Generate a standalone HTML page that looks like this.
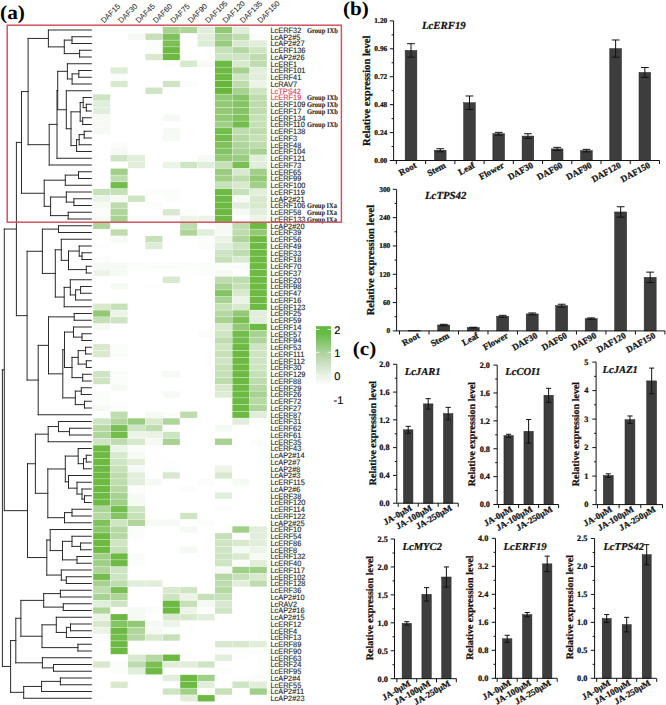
<!DOCTYPE html>
<html><head><meta charset="utf-8"><title>Figure</title>
<style>
html,body{margin:0;padding:0;background:#fff;width:666px;height:705px;overflow:hidden;}
body{position:relative;}
svg{display:block;text-rendering:geometricPrecision;}
</style></head><body>
<svg width="666" height="705" viewBox="0 0 666 705" style="position:absolute;left:0;top:0">
<defs><linearGradient id="lgd" x1="0" y1="0" x2="0" y2="1"><stop offset="0" stop-color="#60ba3e"/><stop offset="0.12" stop-color="#66bb44"/><stop offset="0.44" stop-color="#acd39c"/><stop offset="0.8" stop-color="#e6efe2"/><stop offset="1" stop-color="#ffffff"/></linearGradient></defs>
<g>
<rect x="162.8" y="26.82" width="17" height="6.35" fill="#a7d291"/>
<rect x="180.2" y="26.82" width="17" height="6.35" fill="#afd59a"/>
<rect x="197.6" y="26.82" width="17" height="6.35" fill="#e1eedb"/>
<rect x="215" y="26.82" width="17" height="6.35" fill="#93c975"/>
<rect x="232.4" y="26.82" width="17" height="6.35" fill="#e1eedb"/>
<rect x="128" y="33.58" width="17" height="6.35" fill="#f6faf4"/>
<rect x="145.4" y="33.58" width="17" height="6.35" fill="#c6e0b8"/>
<rect x="162.8" y="33.58" width="17" height="6.35" fill="#7fc15b"/>
<rect x="197.6" y="33.58" width="17" height="6.35" fill="#e1eedb"/>
<rect x="215" y="33.58" width="17" height="6.35" fill="#a7d291"/>
<rect x="232.4" y="33.58" width="17" height="6.35" fill="#bedcae"/>
<rect x="249.8" y="33.58" width="17" height="6.35" fill="#fbfdfa"/>
<rect x="145.4" y="40.33" width="17" height="6.35" fill="#fbfdfa"/>
<rect x="162.8" y="40.33" width="17" height="6.35" fill="#79bf53"/>
<rect x="197.6" y="40.33" width="17" height="6.35" fill="#ddecd5"/>
<rect x="215" y="40.33" width="17" height="6.35" fill="#99cc7e"/>
<rect x="232.4" y="40.33" width="17" height="6.35" fill="#d8e9ce"/>
<rect x="249.8" y="40.33" width="17" height="6.35" fill="#e1eedb"/>
<rect x="145.4" y="47.08" width="17" height="6.35" fill="#fbfdfa"/>
<rect x="162.8" y="47.08" width="17" height="6.35" fill="#6cba42"/>
<rect x="215" y="47.08" width="17" height="6.35" fill="#c6e0b8"/>
<rect x="232.4" y="47.08" width="17" height="6.35" fill="#b6d9a4"/>
<rect x="249.8" y="47.08" width="17" height="6.35" fill="#cee5c3"/>
<rect x="145.4" y="53.83" width="17" height="6.35" fill="#d8e9ce"/>
<rect x="162.8" y="53.83" width="17" height="6.35" fill="#6cba42"/>
<rect x="215" y="53.83" width="17" height="6.35" fill="#cee5c3"/>
<rect x="232.4" y="53.83" width="17" height="6.35" fill="#cee5c3"/>
<rect x="249.8" y="53.83" width="17" height="6.35" fill="#bedcae"/>
<rect x="162.8" y="60.58" width="17" height="6.35" fill="#fbfdfa"/>
<rect x="180.2" y="60.58" width="17" height="6.35" fill="#d8e9ce"/>
<rect x="197.6" y="60.58" width="17" height="6.35" fill="#f6faf4"/>
<rect x="215" y="60.58" width="17" height="6.35" fill="#6cba42"/>
<rect x="232.4" y="60.58" width="17" height="6.35" fill="#d8e9ce"/>
<rect x="249.8" y="60.58" width="17" height="6.35" fill="#bedcae"/>
<rect x="110.6" y="67.33" width="17" height="6.35" fill="#ddecd5"/>
<rect x="215" y="67.33" width="17" height="6.35" fill="#6cba42"/>
<rect x="232.4" y="67.33" width="17" height="6.35" fill="#a7d291"/>
<rect x="249.8" y="67.33" width="17" height="6.35" fill="#e1eedb"/>
<rect x="110.6" y="74.08" width="17" height="6.35" fill="#fbfdfa"/>
<rect x="215" y="74.08" width="17" height="6.35" fill="#6cba42"/>
<rect x="232.4" y="74.08" width="17" height="6.35" fill="#cee5c3"/>
<rect x="249.8" y="74.08" width="17" height="6.35" fill="#e1eedb"/>
<rect x="110.6" y="80.83" width="17" height="6.35" fill="#d8e9ce"/>
<rect x="162.8" y="80.83" width="17" height="6.35" fill="#cee5c3"/>
<rect x="180.2" y="80.83" width="17" height="6.35" fill="#fbfdfa"/>
<rect x="215" y="80.83" width="17" height="6.35" fill="#66b83a"/>
<rect x="232.4" y="80.83" width="17" height="6.35" fill="#bedcae"/>
<rect x="249.8" y="80.83" width="17" height="6.35" fill="#ebf4e6"/>
<rect x="145.4" y="87.58" width="17" height="6.35" fill="#cee5c3"/>
<rect x="215" y="87.58" width="17" height="6.35" fill="#66b83a"/>
<rect x="232.4" y="87.58" width="17" height="6.35" fill="#a7d291"/>
<rect x="249.8" y="87.58" width="17" height="6.35" fill="#cee5c3"/>
<rect x="93.2" y="94.33" width="17" height="6.35" fill="#cee5c3"/>
<rect x="215" y="94.33" width="17" height="6.35" fill="#93c975"/>
<rect x="232.4" y="94.33" width="17" height="6.35" fill="#85c464"/>
<rect x="249.8" y="94.33" width="17" height="6.35" fill="#bedcae"/>
<rect x="93.2" y="101.08" width="17" height="6.35" fill="#e1eedb"/>
<rect x="215" y="101.08" width="17" height="6.35" fill="#93c975"/>
<rect x="232.4" y="101.08" width="17" height="6.35" fill="#85c464"/>
<rect x="249.8" y="101.08" width="17" height="6.35" fill="#bedcae"/>
<rect x="93.2" y="107.83" width="17" height="6.35" fill="#e1eedb"/>
<rect x="215" y="107.83" width="17" height="6.35" fill="#93c975"/>
<rect x="232.4" y="107.83" width="17" height="6.35" fill="#85c464"/>
<rect x="249.8" y="107.83" width="17" height="6.35" fill="#bedcae"/>
<rect x="93.2" y="114.58" width="17" height="6.35" fill="#f6faf4"/>
<rect x="162.8" y="114.58" width="17" height="6.35" fill="#f6faf4"/>
<rect x="215" y="114.58" width="17" height="6.35" fill="#93c975"/>
<rect x="232.4" y="114.58" width="17" height="6.35" fill="#7fc15b"/>
<rect x="249.8" y="114.58" width="17" height="6.35" fill="#c6e0b8"/>
<rect x="93.2" y="121.33" width="17" height="6.35" fill="#f6faf4"/>
<rect x="215" y="121.33" width="17" height="6.35" fill="#a0cf87"/>
<rect x="232.4" y="121.33" width="17" height="6.35" fill="#72bd4b"/>
<rect x="249.8" y="121.33" width="17" height="6.35" fill="#c6e0b8"/>
<rect x="93.2" y="128.07" width="17" height="6.35" fill="#f6faf4"/>
<rect x="162.8" y="128.07" width="17" height="6.35" fill="#f6faf4"/>
<rect x="215" y="128.07" width="17" height="6.35" fill="#72bd4b"/>
<rect x="232.4" y="128.07" width="17" height="6.35" fill="#bedcae"/>
<rect x="249.8" y="128.07" width="17" height="6.35" fill="#bedcae"/>
<rect x="162.8" y="134.82" width="17" height="6.35" fill="#f6faf4"/>
<rect x="215" y="134.82" width="17" height="6.35" fill="#72bd4b"/>
<rect x="232.4" y="134.82" width="17" height="6.35" fill="#b6d9a4"/>
<rect x="249.8" y="134.82" width="17" height="6.35" fill="#c6e0b8"/>
<rect x="110.6" y="141.57" width="17" height="6.35" fill="#fbfdfa"/>
<rect x="215" y="141.57" width="17" height="6.35" fill="#7fc15b"/>
<rect x="232.4" y="141.57" width="17" height="6.35" fill="#afd59a"/>
<rect x="249.8" y="141.57" width="17" height="6.35" fill="#bedcae"/>
<rect x="110.6" y="148.32" width="17" height="6.35" fill="#f6faf4"/>
<rect x="215" y="148.32" width="17" height="6.35" fill="#85c464"/>
<rect x="232.4" y="148.32" width="17" height="6.35" fill="#a7d291"/>
<rect x="249.8" y="148.32" width="17" height="6.35" fill="#a7d291"/>
<rect x="110.6" y="155.07" width="17" height="6.35" fill="#cee5c3"/>
<rect x="128" y="155.07" width="17" height="6.35" fill="#e1eedb"/>
<rect x="197.6" y="155.07" width="17" height="6.35" fill="#f6faf4"/>
<rect x="215" y="155.07" width="17" height="6.35" fill="#93c975"/>
<rect x="232.4" y="155.07" width="17" height="6.35" fill="#99cc7e"/>
<rect x="249.8" y="155.07" width="17" height="6.35" fill="#e1eedb"/>
<rect x="128" y="161.82" width="17" height="6.35" fill="#e1eedb"/>
<rect x="162.8" y="161.82" width="17" height="6.35" fill="#ebf4e6"/>
<rect x="180.2" y="161.82" width="17" height="6.35" fill="#cee5c3"/>
<rect x="197.6" y="161.82" width="17" height="6.35" fill="#e1eedb"/>
<rect x="215" y="161.82" width="17" height="6.35" fill="#c6e0b8"/>
<rect x="232.4" y="161.82" width="17" height="6.35" fill="#79bf53"/>
<rect x="249.8" y="161.82" width="17" height="6.35" fill="#e1eedb"/>
<rect x="110.6" y="168.57" width="17" height="6.35" fill="#a0cf87"/>
<rect x="215" y="168.57" width="17" height="6.35" fill="#99cc7e"/>
<rect x="232.4" y="168.57" width="17" height="6.35" fill="#d8e9ce"/>
<rect x="249.8" y="168.57" width="17" height="6.35" fill="#a0cf87"/>
<rect x="110.6" y="175.32" width="17" height="6.35" fill="#bedcae"/>
<rect x="215" y="175.32" width="17" height="6.35" fill="#a0cf87"/>
<rect x="232.4" y="175.32" width="17" height="6.35" fill="#bedcae"/>
<rect x="249.8" y="175.32" width="17" height="6.35" fill="#93c975"/>
<rect x="110.6" y="182.07" width="17" height="6.35" fill="#72bd4b"/>
<rect x="215" y="182.07" width="17" height="6.35" fill="#c6e0b8"/>
<rect x="232.4" y="182.07" width="17" height="6.35" fill="#d8e9ce"/>
<rect x="249.8" y="182.07" width="17" height="6.35" fill="#a0cf87"/>
<rect x="93.2" y="188.82" width="17" height="6.35" fill="#c6e0b8"/>
<rect x="110.6" y="188.82" width="17" height="6.35" fill="#c6e0b8"/>
<rect x="145.4" y="188.82" width="17" height="6.35" fill="#fbfdfa"/>
<rect x="162.8" y="188.82" width="17" height="6.35" fill="#fbfdfa"/>
<rect x="215" y="188.82" width="17" height="6.35" fill="#6cba42"/>
<rect x="232.4" y="188.82" width="17" height="6.35" fill="#c6e0b8"/>
<rect x="249.8" y="188.82" width="17" height="6.35" fill="#e1eedb"/>
<rect x="93.2" y="195.57" width="17" height="6.35" fill="#ebf4e6"/>
<rect x="110.6" y="195.57" width="17" height="6.35" fill="#f6faf4"/>
<rect x="128" y="195.57" width="17" height="6.35" fill="#cee5c3"/>
<rect x="162.8" y="195.57" width="17" height="6.35" fill="#fbfdfa"/>
<rect x="215" y="195.57" width="17" height="6.35" fill="#6cba42"/>
<rect x="232.4" y="195.57" width="17" height="6.35" fill="#f6faf4"/>
<rect x="249.8" y="195.57" width="17" height="6.35" fill="#d8e9ce"/>
<rect x="93.2" y="202.32" width="17" height="6.35" fill="#f6faf4"/>
<rect x="110.6" y="202.32" width="17" height="6.35" fill="#bedcae"/>
<rect x="145.4" y="202.32" width="17" height="6.35" fill="#fbfdfa"/>
<rect x="215" y="202.32" width="17" height="6.35" fill="#6cba42"/>
<rect x="232.4" y="202.32" width="17" height="6.35" fill="#e1eedb"/>
<rect x="249.8" y="202.32" width="17" height="6.35" fill="#d8e9ce"/>
<rect x="93.2" y="209.07" width="17" height="6.35" fill="#fbfdfa"/>
<rect x="110.6" y="209.07" width="17" height="6.35" fill="#afd59a"/>
<rect x="162.8" y="209.07" width="17" height="6.35" fill="#d8e9ce"/>
<rect x="180.2" y="209.07" width="17" height="6.35" fill="#fbfdfa"/>
<rect x="215" y="209.07" width="17" height="6.35" fill="#6cba42"/>
<rect x="232.4" y="209.07" width="17" height="6.35" fill="#f6faf4"/>
<rect x="249.8" y="209.07" width="17" height="6.35" fill="#e1eedb"/>
<rect x="93.2" y="215.82" width="17" height="6.35" fill="#f6faf4"/>
<rect x="110.6" y="215.82" width="17" height="6.35" fill="#a7d291"/>
<rect x="180.2" y="215.82" width="17" height="6.35" fill="#ebf4e6"/>
<rect x="197.6" y="215.82" width="17" height="6.35" fill="#ebf4e6"/>
<rect x="215" y="215.82" width="17" height="6.35" fill="#6cba42"/>
<rect x="249.8" y="215.82" width="17" height="6.35" fill="#ebf4e6"/>
<rect x="93.2" y="222.57" width="17" height="6.35" fill="#afd59a"/>
<rect x="110.6" y="222.57" width="17" height="6.35" fill="#fbfdfa"/>
<rect x="180.2" y="222.57" width="17" height="6.35" fill="#bedcae"/>
<rect x="215" y="222.57" width="17" height="6.35" fill="#f6faf4"/>
<rect x="232.4" y="222.57" width="17" height="6.35" fill="#bedcae"/>
<rect x="249.8" y="222.57" width="17" height="6.35" fill="#6cba42"/>
<rect x="110.6" y="229.32" width="17" height="6.35" fill="#bedcae"/>
<rect x="180.2" y="229.32" width="17" height="6.35" fill="#afd59a"/>
<rect x="197.6" y="229.32" width="17" height="6.35" fill="#e1eedb"/>
<rect x="215" y="229.32" width="17" height="6.35" fill="#f6faf4"/>
<rect x="232.4" y="229.32" width="17" height="6.35" fill="#bedcae"/>
<rect x="249.8" y="229.32" width="17" height="6.35" fill="#93c975"/>
<rect x="110.6" y="236.07" width="17" height="6.35" fill="#f6faf4"/>
<rect x="145.4" y="236.07" width="17" height="6.35" fill="#c6e0b8"/>
<rect x="197.6" y="236.07" width="17" height="6.35" fill="#fbfdfa"/>
<rect x="215" y="236.07" width="17" height="6.35" fill="#ebf4e6"/>
<rect x="232.4" y="236.07" width="17" height="6.35" fill="#afd59a"/>
<rect x="249.8" y="236.07" width="17" height="6.35" fill="#6cba42"/>
<rect x="93.2" y="242.82" width="17" height="6.35" fill="#fdfefd"/>
<rect x="145.4" y="242.82" width="17" height="6.35" fill="#ddecd5"/>
<rect x="197.6" y="242.82" width="17" height="6.35" fill="#fbfdfa"/>
<rect x="215" y="242.82" width="17" height="6.35" fill="#e1eedb"/>
<rect x="232.4" y="242.82" width="17" height="6.35" fill="#cee5c3"/>
<rect x="249.8" y="242.82" width="17" height="6.35" fill="#6cba42"/>
<rect x="215" y="249.57" width="17" height="6.35" fill="#cee5c3"/>
<rect x="232.4" y="249.57" width="17" height="6.35" fill="#bedcae"/>
<rect x="249.8" y="249.57" width="17" height="6.35" fill="#6cba42"/>
<rect x="93.2" y="256.32" width="17" height="6.35" fill="#fbfdfa"/>
<rect x="215" y="256.32" width="17" height="6.35" fill="#c6e0b8"/>
<rect x="232.4" y="256.32" width="17" height="6.35" fill="#d8e9ce"/>
<rect x="249.8" y="256.32" width="17" height="6.35" fill="#6cba42"/>
<rect x="93.2" y="263.07" width="17" height="6.35" fill="#f6faf4"/>
<rect x="110.6" y="263.07" width="17" height="6.35" fill="#f6faf4"/>
<rect x="128" y="263.07" width="17" height="6.35" fill="#fbfdfa"/>
<rect x="145.4" y="263.07" width="17" height="6.35" fill="#fbfdfa"/>
<rect x="162.8" y="263.07" width="17" height="6.35" fill="#fbfdfa"/>
<rect x="180.2" y="263.07" width="17" height="6.35" fill="#fbfdfa"/>
<rect x="197.6" y="263.07" width="17" height="6.35" fill="#fbfdfa"/>
<rect x="215" y="263.07" width="17" height="6.35" fill="#fbfdfa"/>
<rect x="232.4" y="263.07" width="17" height="6.35" fill="#fbfdfa"/>
<rect x="249.8" y="263.07" width="17" height="6.35" fill="#6cba42"/>
<rect x="93.2" y="269.82" width="17" height="6.35" fill="#ebf4e6"/>
<rect x="110.6" y="269.82" width="17" height="6.35" fill="#f6faf4"/>
<rect x="128" y="269.82" width="17" height="6.35" fill="#fdfefd"/>
<rect x="180.2" y="269.82" width="17" height="6.35" fill="#fdfefd"/>
<rect x="197.6" y="269.82" width="17" height="6.35" fill="#fbfdfa"/>
<rect x="215" y="269.82" width="17" height="6.35" fill="#f6faf4"/>
<rect x="249.8" y="269.82" width="17" height="6.35" fill="#6cba42"/>
<rect x="162.8" y="276.57" width="17" height="6.35" fill="#d8e9ce"/>
<rect x="215" y="276.57" width="17" height="6.35" fill="#bedcae"/>
<rect x="232.4" y="276.57" width="17" height="6.35" fill="#bedcae"/>
<rect x="249.8" y="276.57" width="17" height="6.35" fill="#6cba42"/>
<rect x="110.6" y="283.32" width="17" height="6.35" fill="#f6faf4"/>
<rect x="145.4" y="283.32" width="17" height="6.35" fill="#fdfefd"/>
<rect x="215" y="283.32" width="17" height="6.35" fill="#a7d291"/>
<rect x="232.4" y="283.32" width="17" height="6.35" fill="#c6e0b8"/>
<rect x="249.8" y="283.32" width="17" height="6.35" fill="#6cba42"/>
<rect x="215" y="290.07" width="17" height="6.35" fill="#85c464"/>
<rect x="232.4" y="290.07" width="17" height="6.35" fill="#d8e9ce"/>
<rect x="249.8" y="290.07" width="17" height="6.35" fill="#6cba42"/>
<rect x="215" y="296.82" width="17" height="6.35" fill="#a7d291"/>
<rect x="232.4" y="296.82" width="17" height="6.35" fill="#ebf4e6"/>
<rect x="249.8" y="296.82" width="17" height="6.35" fill="#6cba42"/>
<rect x="93.2" y="303.57" width="17" height="6.35" fill="#d8e9ce"/>
<rect x="110.6" y="303.57" width="17" height="6.35" fill="#c6e0b8"/>
<rect x="215" y="303.57" width="17" height="6.35" fill="#c6e0b8"/>
<rect x="232.4" y="303.57" width="17" height="6.35" fill="#d8e9ce"/>
<rect x="249.8" y="303.57" width="17" height="6.35" fill="#6cba42"/>
<rect x="93.2" y="310.32" width="17" height="6.35" fill="#93c975"/>
<rect x="110.6" y="310.32" width="17" height="6.35" fill="#ebf4e6"/>
<rect x="215" y="310.32" width="17" height="6.35" fill="#b6d9a4"/>
<rect x="232.4" y="310.32" width="17" height="6.35" fill="#93c975"/>
<rect x="249.8" y="310.32" width="17" height="6.35" fill="#e1eedb"/>
<rect x="93.2" y="317.07" width="17" height="6.35" fill="#c6e0b8"/>
<rect x="110.6" y="317.07" width="17" height="6.35" fill="#cee5c3"/>
<rect x="215" y="317.07" width="17" height="6.35" fill="#a7d291"/>
<rect x="232.4" y="317.07" width="17" height="6.35" fill="#79bf53"/>
<rect x="249.8" y="317.07" width="17" height="6.35" fill="#e1eedb"/>
<rect x="93.2" y="323.82" width="17" height="6.35" fill="#f6faf4"/>
<rect x="215" y="323.82" width="17" height="6.35" fill="#d8e9ce"/>
<rect x="232.4" y="323.82" width="17" height="6.35" fill="#93c975"/>
<rect x="249.8" y="323.82" width="17" height="6.35" fill="#6cba42"/>
<rect x="197.6" y="330.57" width="17" height="6.35" fill="#fbfdfa"/>
<rect x="215" y="330.57" width="17" height="6.35" fill="#cee5c3"/>
<rect x="232.4" y="330.57" width="17" height="6.35" fill="#72bd4b"/>
<rect x="249.8" y="330.57" width="17" height="6.35" fill="#a7d291"/>
<rect x="215" y="337.32" width="17" height="6.35" fill="#bedcae"/>
<rect x="232.4" y="337.32" width="17" height="6.35" fill="#72bd4b"/>
<rect x="249.8" y="337.32" width="17" height="6.35" fill="#afd59a"/>
<rect x="93.2" y="344.07" width="17" height="6.35" fill="#d8e9ce"/>
<rect x="110.6" y="344.07" width="17" height="6.35" fill="#fbfdfa"/>
<rect x="215" y="344.07" width="17" height="6.35" fill="#cee5c3"/>
<rect x="232.4" y="344.07" width="17" height="6.35" fill="#6cba42"/>
<rect x="249.8" y="344.07" width="17" height="6.35" fill="#cee5c3"/>
<rect x="93.2" y="350.82" width="17" height="6.35" fill="#d8e9ce"/>
<rect x="110.6" y="350.82" width="17" height="6.35" fill="#fbfdfa"/>
<rect x="215" y="350.82" width="17" height="6.35" fill="#c6e0b8"/>
<rect x="232.4" y="350.82" width="17" height="6.35" fill="#6cba42"/>
<rect x="249.8" y="350.82" width="17" height="6.35" fill="#cee5c3"/>
<rect x="215" y="357.57" width="17" height="6.35" fill="#cee5c3"/>
<rect x="232.4" y="357.57" width="17" height="6.35" fill="#6cba42"/>
<rect x="249.8" y="357.57" width="17" height="6.35" fill="#cee5c3"/>
<rect x="215" y="364.32" width="17" height="6.35" fill="#c6e0b8"/>
<rect x="232.4" y="364.32" width="17" height="6.35" fill="#6cba42"/>
<rect x="249.8" y="364.32" width="17" height="6.35" fill="#cee5c3"/>
<rect x="93.2" y="371.07" width="17" height="6.35" fill="#cee5c3"/>
<rect x="110.6" y="371.07" width="17" height="6.35" fill="#fbfdfa"/>
<rect x="162.8" y="371.07" width="17" height="6.35" fill="#f6faf4"/>
<rect x="215" y="371.07" width="17" height="6.35" fill="#c6e0b8"/>
<rect x="232.4" y="371.07" width="17" height="6.35" fill="#6cba42"/>
<rect x="249.8" y="371.07" width="17" height="6.35" fill="#c6e0b8"/>
<rect x="93.2" y="377.82" width="17" height="6.35" fill="#cee5c3"/>
<rect x="110.6" y="377.82" width="17" height="6.35" fill="#fbfdfa"/>
<rect x="215" y="377.82" width="17" height="6.35" fill="#bedcae"/>
<rect x="232.4" y="377.82" width="17" height="6.35" fill="#6cba42"/>
<rect x="249.8" y="377.82" width="17" height="6.35" fill="#bedcae"/>
<rect x="110.6" y="384.57" width="17" height="6.35" fill="#f6faf4"/>
<rect x="215" y="384.57" width="17" height="6.35" fill="#d8e9ce"/>
<rect x="232.4" y="384.57" width="17" height="6.35" fill="#6cba42"/>
<rect x="249.8" y="384.57" width="17" height="6.35" fill="#b6d9a4"/>
<rect x="93.2" y="391.32" width="17" height="6.35" fill="#fbfdfa"/>
<rect x="162.8" y="391.32" width="17" height="6.35" fill="#f6faf4"/>
<rect x="215" y="391.32" width="17" height="6.35" fill="#ddecd5"/>
<rect x="232.4" y="391.32" width="17" height="6.35" fill="#6cba42"/>
<rect x="249.8" y="391.32" width="17" height="6.35" fill="#a7d291"/>
<rect x="93.2" y="398.07" width="17" height="6.35" fill="#fbfdfa"/>
<rect x="110.6" y="398.07" width="17" height="6.35" fill="#fdfefd"/>
<rect x="232.4" y="398.07" width="17" height="6.35" fill="#6cba42"/>
<rect x="249.8" y="398.07" width="17" height="6.35" fill="#b6d9a4"/>
<rect x="93.2" y="404.82" width="17" height="6.35" fill="#f6faf4"/>
<rect x="110.6" y="404.82" width="17" height="6.35" fill="#fbfdfa"/>
<rect x="232.4" y="404.82" width="17" height="6.35" fill="#6cba42"/>
<rect x="249.8" y="404.82" width="17" height="6.35" fill="#afd59a"/>
<rect x="110.6" y="411.57" width="17" height="6.35" fill="#bedcae"/>
<rect x="145.4" y="411.57" width="17" height="6.35" fill="#f6faf4"/>
<rect x="162.8" y="411.57" width="17" height="6.35" fill="#fbfdfa"/>
<rect x="180.2" y="411.57" width="17" height="6.35" fill="#bedcae"/>
<rect x="232.4" y="411.57" width="17" height="6.35" fill="#6cba42"/>
<rect x="249.8" y="411.57" width="17" height="6.35" fill="#e1eedb"/>
<rect x="93.2" y="418.32" width="17" height="6.35" fill="#cee5c3"/>
<rect x="110.6" y="418.32" width="17" height="6.35" fill="#afd59a"/>
<rect x="128" y="418.32" width="17" height="6.35" fill="#99cc7e"/>
<rect x="145.4" y="418.32" width="17" height="6.35" fill="#d8e9ce"/>
<rect x="162.8" y="418.32" width="17" height="6.35" fill="#afd59a"/>
<rect x="232.4" y="418.32" width="17" height="6.35" fill="#e1eedb"/>
<rect x="93.2" y="425.07" width="17" height="6.35" fill="#b6d9a4"/>
<rect x="110.6" y="425.07" width="17" height="6.35" fill="#79bf53"/>
<rect x="128" y="425.07" width="17" height="6.35" fill="#cee5c3"/>
<rect x="145.4" y="425.07" width="17" height="6.35" fill="#bedcae"/>
<rect x="162.8" y="425.07" width="17" height="6.35" fill="#fbfdfa"/>
<rect x="215" y="425.07" width="17" height="6.35" fill="#f6faf4"/>
<rect x="93.2" y="431.82" width="17" height="6.35" fill="#afd59a"/>
<rect x="110.6" y="431.82" width="17" height="6.35" fill="#72bd4b"/>
<rect x="128" y="431.82" width="17" height="6.35" fill="#ebf4e6"/>
<rect x="145.4" y="431.82" width="17" height="6.35" fill="#ebf4e6"/>
<rect x="162.8" y="431.82" width="17" height="6.35" fill="#cee5c3"/>
<rect x="93.2" y="438.57" width="17" height="6.35" fill="#cee5c3"/>
<rect x="110.6" y="438.57" width="17" height="6.35" fill="#bedcae"/>
<rect x="128" y="438.57" width="17" height="6.35" fill="#d8e9ce"/>
<rect x="145.4" y="438.57" width="17" height="6.35" fill="#f6faf4"/>
<rect x="162.8" y="438.57" width="17" height="6.35" fill="#a7d291"/>
<rect x="215" y="438.57" width="17" height="6.35" fill="#a7d291"/>
<rect x="249.8" y="438.57" width="17" height="6.35" fill="#fbfdfa"/>
<rect x="93.2" y="445.32" width="17" height="6.35" fill="#6cba42"/>
<rect x="110.6" y="445.32" width="17" height="6.35" fill="#ebf4e6"/>
<rect x="128" y="445.32" width="17" height="6.35" fill="#fbfdfa"/>
<rect x="145.4" y="445.32" width="17" height="6.35" fill="#fdfefd"/>
<rect x="93.2" y="452.07" width="17" height="6.35" fill="#6cba42"/>
<rect x="110.6" y="452.07" width="17" height="6.35" fill="#d8e9ce"/>
<rect x="128" y="452.07" width="17" height="6.35" fill="#f6faf4"/>
<rect x="145.4" y="452.07" width="17" height="6.35" fill="#fdfefd"/>
<rect x="180.2" y="452.07" width="17" height="6.35" fill="#fdfefd"/>
<rect x="93.2" y="458.82" width="17" height="6.35" fill="#6cba42"/>
<rect x="110.6" y="458.82" width="17" height="6.35" fill="#cee5c3"/>
<rect x="128" y="458.82" width="17" height="6.35" fill="#e1eedb"/>
<rect x="145.4" y="458.82" width="17" height="6.35" fill="#fdfefd"/>
<rect x="162.8" y="458.82" width="17" height="6.35" fill="#fdfefd"/>
<rect x="93.2" y="465.57" width="17" height="6.35" fill="#6cba42"/>
<rect x="110.6" y="465.57" width="17" height="6.35" fill="#c6e0b8"/>
<rect x="128" y="465.57" width="17" height="6.35" fill="#f6faf4"/>
<rect x="145.4" y="465.57" width="17" height="6.35" fill="#fdfefd"/>
<rect x="162.8" y="465.57" width="17" height="6.35" fill="#fbfdfa"/>
<rect x="215" y="465.57" width="17" height="6.35" fill="#ebf4e6"/>
<rect x="93.2" y="472.32" width="17" height="6.35" fill="#6cba42"/>
<rect x="110.6" y="472.32" width="17" height="6.35" fill="#bedcae"/>
<rect x="128" y="472.32" width="17" height="6.35" fill="#e1eedb"/>
<rect x="145.4" y="472.32" width="17" height="6.35" fill="#fefffe"/>
<rect x="162.8" y="472.32" width="17" height="6.35" fill="#d8e9ce"/>
<rect x="215" y="472.32" width="17" height="6.35" fill="#d8e9ce"/>
<rect x="93.2" y="479.07" width="17" height="6.35" fill="#6cba42"/>
<rect x="110.6" y="479.07" width="17" height="6.35" fill="#bedcae"/>
<rect x="128" y="479.07" width="17" height="6.35" fill="#e1eedb"/>
<rect x="145.4" y="479.07" width="17" height="6.35" fill="#f6faf4"/>
<rect x="197.6" y="479.07" width="17" height="6.35" fill="#fbfdfa"/>
<rect x="232.4" y="479.07" width="17" height="6.35" fill="#f6faf4"/>
<rect x="93.2" y="485.82" width="17" height="6.35" fill="#6cba42"/>
<rect x="110.6" y="485.82" width="17" height="6.35" fill="#b6d9a4"/>
<rect x="128" y="485.82" width="17" height="6.35" fill="#fbfdfa"/>
<rect x="180.2" y="485.82" width="17" height="6.35" fill="#fbfdfa"/>
<rect x="93.2" y="492.57" width="17" height="6.35" fill="#6cba42"/>
<rect x="110.6" y="492.57" width="17" height="6.35" fill="#a7d291"/>
<rect x="128" y="492.57" width="17" height="6.35" fill="#f6faf4"/>
<rect x="215" y="492.57" width="17" height="6.35" fill="#e1eedb"/>
<rect x="93.2" y="499.32" width="17" height="6.35" fill="#6cba42"/>
<rect x="110.6" y="499.32" width="17" height="6.35" fill="#a0cf87"/>
<rect x="128" y="499.32" width="17" height="6.35" fill="#f6faf4"/>
<rect x="93.2" y="506.07" width="17" height="6.35" fill="#afd59a"/>
<rect x="110.6" y="506.07" width="17" height="6.35" fill="#72bd4b"/>
<rect x="128" y="506.07" width="17" height="6.35" fill="#cee5c3"/>
<rect x="215" y="506.07" width="17" height="6.35" fill="#fbfdfa"/>
<rect x="93.2" y="512.83" width="17" height="6.35" fill="#b6d9a4"/>
<rect x="110.6" y="512.83" width="17" height="6.35" fill="#85c464"/>
<rect x="128" y="512.83" width="17" height="6.35" fill="#c6e0b8"/>
<rect x="180.2" y="512.83" width="17" height="6.35" fill="#cee5c3"/>
<rect x="93.2" y="519.58" width="17" height="6.35" fill="#7fc15b"/>
<rect x="110.6" y="519.58" width="17" height="6.35" fill="#cee5c3"/>
<rect x="128" y="519.58" width="17" height="6.35" fill="#afd59a"/>
<rect x="145.4" y="519.58" width="17" height="6.35" fill="#f6faf4"/>
<rect x="162.8" y="519.58" width="17" height="6.35" fill="#f6faf4"/>
<rect x="197.6" y="519.58" width="17" height="6.35" fill="#fbfdfa"/>
<rect x="93.2" y="526.33" width="17" height="6.35" fill="#8cc66d"/>
<rect x="110.6" y="526.33" width="17" height="6.35" fill="#b6d9a4"/>
<rect x="128" y="526.33" width="17" height="6.35" fill="#fbfdfa"/>
<rect x="180.2" y="526.33" width="17" height="6.35" fill="#f6faf4"/>
<rect x="232.4" y="526.33" width="17" height="6.35" fill="#a0cf87"/>
<rect x="249.8" y="526.33" width="17" height="6.35" fill="#e1eedb"/>
<rect x="93.2" y="533.08" width="17" height="6.35" fill="#6cba42"/>
<rect x="110.6" y="533.08" width="17" height="6.35" fill="#b6d9a4"/>
<rect x="128" y="533.08" width="17" height="6.35" fill="#fbfdfa"/>
<rect x="215" y="533.08" width="17" height="6.35" fill="#c6e0b8"/>
<rect x="249.8" y="533.08" width="17" height="6.35" fill="#e1eedb"/>
<rect x="93.2" y="539.83" width="17" height="6.35" fill="#6cba42"/>
<rect x="110.6" y="539.83" width="17" height="6.35" fill="#cee5c3"/>
<rect x="215" y="539.83" width="17" height="6.35" fill="#cee5c3"/>
<rect x="232.4" y="539.83" width="17" height="6.35" fill="#d8e9ce"/>
<rect x="249.8" y="539.83" width="17" height="6.35" fill="#e1eedb"/>
<rect x="93.2" y="546.58" width="17" height="6.35" fill="#6cba42"/>
<rect x="110.6" y="546.58" width="17" height="6.35" fill="#c6e0b8"/>
<rect x="180.2" y="546.58" width="17" height="6.35" fill="#f6faf4"/>
<rect x="215" y="546.58" width="17" height="6.35" fill="#cee5c3"/>
<rect x="232.4" y="546.58" width="17" height="6.35" fill="#f6faf4"/>
<rect x="249.8" y="546.58" width="17" height="6.35" fill="#ebf4e6"/>
<rect x="93.2" y="553.33" width="17" height="6.35" fill="#a0cf87"/>
<rect x="110.6" y="553.33" width="17" height="6.35" fill="#6cba42"/>
<rect x="128" y="553.33" width="17" height="6.35" fill="#fbfdfa"/>
<rect x="215" y="553.33" width="17" height="6.35" fill="#cee5c3"/>
<rect x="232.4" y="553.33" width="17" height="6.35" fill="#d8e9ce"/>
<rect x="249.8" y="553.33" width="17" height="6.35" fill="#f6faf4"/>
<rect x="93.2" y="560.08" width="17" height="6.35" fill="#a0cf87"/>
<rect x="110.6" y="560.08" width="17" height="6.35" fill="#6cba42"/>
<rect x="128" y="560.08" width="17" height="6.35" fill="#fbfdfa"/>
<rect x="215" y="560.08" width="17" height="6.35" fill="#cee5c3"/>
<rect x="232.4" y="560.08" width="17" height="6.35" fill="#fbfdfa"/>
<rect x="249.8" y="560.08" width="17" height="6.35" fill="#e1eedb"/>
<rect x="93.2" y="566.83" width="17" height="6.35" fill="#afd59a"/>
<rect x="110.6" y="566.83" width="17" height="6.35" fill="#cee5c3"/>
<rect x="215" y="566.83" width="17" height="6.35" fill="#f6faf4"/>
<rect x="232.4" y="566.83" width="17" height="6.35" fill="#a0cf87"/>
<rect x="249.8" y="566.83" width="17" height="6.35" fill="#a0cf87"/>
<rect x="93.2" y="573.58" width="17" height="6.35" fill="#72bd4b"/>
<rect x="110.6" y="573.58" width="17" height="6.35" fill="#cee5c3"/>
<rect x="215" y="573.58" width="17" height="6.35" fill="#b6d9a4"/>
<rect x="232.4" y="573.58" width="17" height="6.35" fill="#c6e0b8"/>
<rect x="249.8" y="573.58" width="17" height="6.35" fill="#d8e9ce"/>
<rect x="93.2" y="580.33" width="17" height="6.35" fill="#a7d291"/>
<rect x="110.6" y="580.33" width="17" height="6.35" fill="#bedcae"/>
<rect x="128" y="580.33" width="17" height="6.35" fill="#e1eedb"/>
<rect x="145.4" y="580.33" width="17" height="6.35" fill="#e1eedb"/>
<rect x="215" y="580.33" width="17" height="6.35" fill="#bedcae"/>
<rect x="232.4" y="580.33" width="17" height="6.35" fill="#e1eedb"/>
<rect x="249.8" y="580.33" width="17" height="6.35" fill="#bedcae"/>
<rect x="93.2" y="587.08" width="17" height="6.35" fill="#bedcae"/>
<rect x="110.6" y="587.08" width="17" height="6.35" fill="#79bf53"/>
<rect x="162.8" y="587.08" width="17" height="6.35" fill="#d8e9ce"/>
<rect x="180.2" y="587.08" width="17" height="6.35" fill="#cee5c3"/>
<rect x="215" y="587.08" width="17" height="6.35" fill="#b6d9a4"/>
<rect x="93.2" y="593.83" width="17" height="6.35" fill="#a7d291"/>
<rect x="110.6" y="593.83" width="17" height="6.35" fill="#afd59a"/>
<rect x="162.8" y="593.83" width="17" height="6.35" fill="#cee5c3"/>
<rect x="180.2" y="593.83" width="17" height="6.35" fill="#ebf4e6"/>
<rect x="197.6" y="593.83" width="17" height="6.35" fill="#c6e0b8"/>
<rect x="215" y="593.83" width="17" height="6.35" fill="#c6e0b8"/>
<rect x="93.2" y="600.58" width="17" height="6.35" fill="#e1eedb"/>
<rect x="110.6" y="600.58" width="17" height="6.35" fill="#cee5c3"/>
<rect x="162.8" y="600.58" width="17" height="6.35" fill="#6cba42"/>
<rect x="180.2" y="600.58" width="17" height="6.35" fill="#c6e0b8"/>
<rect x="197.6" y="600.58" width="17" height="6.35" fill="#f6faf4"/>
<rect x="215" y="600.58" width="17" height="6.35" fill="#d8e9ce"/>
<rect x="93.2" y="607.33" width="17" height="6.35" fill="#afd59a"/>
<rect x="128" y="607.33" width="17" height="6.35" fill="#f6faf4"/>
<rect x="145.4" y="607.33" width="17" height="6.35" fill="#fbfdfa"/>
<rect x="162.8" y="607.33" width="17" height="6.35" fill="#6cba42"/>
<rect x="180.2" y="607.33" width="17" height="6.35" fill="#ebf4e6"/>
<rect x="197.6" y="607.33" width="17" height="6.35" fill="#fdfefd"/>
<rect x="215" y="607.33" width="17" height="6.35" fill="#cee5c3"/>
<rect x="93.2" y="614.08" width="17" height="6.35" fill="#ebf4e6"/>
<rect x="110.6" y="614.08" width="17" height="6.35" fill="#6cba42"/>
<rect x="128" y="614.08" width="17" height="6.35" fill="#f6faf4"/>
<rect x="162.8" y="614.08" width="17" height="6.35" fill="#d8e9ce"/>
<rect x="180.2" y="614.08" width="17" height="6.35" fill="#d8e9ce"/>
<rect x="197.6" y="614.08" width="17" height="6.35" fill="#e1eedb"/>
<rect x="93.2" y="620.83" width="17" height="6.35" fill="#d8e9ce"/>
<rect x="110.6" y="620.83" width="17" height="6.35" fill="#85c464"/>
<rect x="128" y="620.83" width="17" height="6.35" fill="#93c975"/>
<rect x="145.4" y="620.83" width="17" height="6.35" fill="#f6faf4"/>
<rect x="162.8" y="620.83" width="17" height="6.35" fill="#ebf4e6"/>
<rect x="93.2" y="627.58" width="17" height="6.35" fill="#ebf4e6"/>
<rect x="110.6" y="627.58" width="17" height="6.35" fill="#6cba42"/>
<rect x="128" y="627.58" width="17" height="6.35" fill="#afd59a"/>
<rect x="145.4" y="627.58" width="17" height="6.35" fill="#f6faf4"/>
<rect x="162.8" y="627.58" width="17" height="6.35" fill="#fbfdfa"/>
<rect x="93.2" y="634.33" width="17" height="6.35" fill="#fbfdfa"/>
<rect x="110.6" y="634.33" width="17" height="6.35" fill="#72bd4b"/>
<rect x="128" y="634.33" width="17" height="6.35" fill="#b6d9a4"/>
<rect x="145.4" y="634.33" width="17" height="6.35" fill="#d8e9ce"/>
<rect x="162.8" y="634.33" width="17" height="6.35" fill="#c6e0b8"/>
<rect x="110.6" y="641.08" width="17" height="6.35" fill="#6cba42"/>
<rect x="215" y="641.08" width="17" height="6.35" fill="#d8e9ce"/>
<rect x="232.4" y="641.08" width="17" height="6.35" fill="#d8e9ce"/>
<rect x="249.8" y="641.08" width="17" height="6.35" fill="#e1eedb"/>
<rect x="110.6" y="647.83" width="17" height="6.35" fill="#6cba42"/>
<rect x="128" y="647.83" width="17" height="6.35" fill="#fdfefd"/>
<rect x="180.2" y="647.83" width="17" height="6.35" fill="#fdfefd"/>
<rect x="215" y="647.83" width="17" height="6.35" fill="#fbfdfa"/>
<rect x="232.4" y="647.83" width="17" height="6.35" fill="#fbfdfa"/>
<rect x="249.8" y="647.83" width="17" height="6.35" fill="#fbfdfa"/>
<rect x="128" y="654.58" width="17" height="6.35" fill="#d8e9ce"/>
<rect x="145.4" y="654.58" width="17" height="6.35" fill="#b6d9a4"/>
<rect x="162.8" y="654.58" width="17" height="6.35" fill="#6cba42"/>
<rect x="215" y="654.58" width="17" height="6.35" fill="#e1eedb"/>
<rect x="232.4" y="654.58" width="17" height="6.35" fill="#fdfefd"/>
<rect x="93.2" y="661.33" width="17" height="6.35" fill="#d8e9ce"/>
<rect x="110.6" y="661.33" width="17" height="6.35" fill="#fbfdfa"/>
<rect x="128" y="661.33" width="17" height="6.35" fill="#bedcae"/>
<rect x="145.4" y="661.33" width="17" height="6.35" fill="#79bf53"/>
<rect x="162.8" y="661.33" width="17" height="6.35" fill="#e1eedb"/>
<rect x="180.2" y="661.33" width="17" height="6.35" fill="#e1eedb"/>
<rect x="197.6" y="661.33" width="17" height="6.35" fill="#cee5c3"/>
<rect x="110.6" y="668.08" width="17" height="6.35" fill="#fbfdfa"/>
<rect x="128" y="668.08" width="17" height="6.35" fill="#e1eedb"/>
<rect x="145.4" y="668.08" width="17" height="6.35" fill="#6cba42"/>
<rect x="215" y="668.08" width="17" height="6.35" fill="#fbfdfa"/>
<rect x="162.8" y="674.83" width="17" height="6.35" fill="#e1eedb"/>
<rect x="180.2" y="674.83" width="17" height="6.35" fill="#6cba42"/>
<rect x="197.6" y="674.83" width="17" height="6.35" fill="#a0cf87"/>
<rect x="215" y="674.83" width="17" height="6.35" fill="#fdfefd"/>
<rect x="232.4" y="674.83" width="17" height="6.35" fill="#fdfefd"/>
<rect x="249.8" y="674.83" width="17" height="6.35" fill="#fbfdfa"/>
<rect x="110.6" y="681.58" width="17" height="6.35" fill="#d8e9ce"/>
<rect x="180.2" y="681.58" width="17" height="6.35" fill="#6cba42"/>
<rect x="197.6" y="681.58" width="17" height="6.35" fill="#e1eedb"/>
<rect x="232.4" y="681.58" width="17" height="6.35" fill="#cee5c3"/>
<rect x="249.8" y="681.58" width="17" height="6.35" fill="#e1eedb"/>
<rect x="162.8" y="688.33" width="17" height="6.35" fill="#cee5c3"/>
<rect x="180.2" y="688.33" width="17" height="6.35" fill="#a0cf87"/>
<rect x="215" y="688.33" width="17" height="6.35" fill="#c6e0b8"/>
<rect x="249.8" y="688.33" width="17" height="6.35" fill="#a0cf87"/>
<rect x="93.2" y="695.08" width="17" height="6.35" fill="#fdfefd"/>
<rect x="180.2" y="695.08" width="17" height="6.35" fill="#e1eedb"/>
<rect x="197.6" y="695.08" width="17" height="6.35" fill="#6cba42"/>
<rect x="215" y="695.08" width="17" height="6.35" fill="#fdfefd"/>
</g>
<path d="M72 36.75V43.5M72 36.75H91.3M72 43.5H91.3M79.6 50.25V57M79.6 50.25H91.3M79.6 57H91.3M64.3 40.12V53.62M64.3 40.12H72M64.3 53.62H79.6M48.4 30V46.88M48.4 30H91.3M48.4 46.88H64.3M78.8 70.5V77.25M78.8 70.5H91.3M78.8 77.25H91.3M72.1 73.88V84M72.1 73.88H78.8M72.1 84H91.3M67.4 63.75V78.94M67.4 63.75H91.3M67.4 78.94H72.1M86.3 104.25V111M86.3 104.25H91.3M86.3 111H91.3M83.2 97.5V107.62M83.2 97.5H91.3M83.2 107.62H86.3M82.7 117.75V124.5M82.7 117.75H91.3M82.7 124.5H91.3M80.2 102.56V121.12M80.2 102.56H83.2M80.2 121.12H82.7M84.2 131.25V138M84.2 131.25H91.3M84.2 138H91.3M79.2 134.62V144.75M79.2 134.62H84.2M79.2 144.75H91.3M76.6 139.69V151.5M76.6 139.69H79.2M76.6 151.5H91.3M71 111.84V145.59M71 111.84H80.2M71 145.59H76.6M66.3 90.75V128.72M66.3 90.75H91.3M66.3 128.72H71M57.7 71.34V109.73M57.7 71.34H67.4M57.7 109.73H66.3M57 90.54V158.25M57 90.54H57.7M57 158.25H91.3M49.2 124.39V165M49.2 124.39H57M49.2 165H91.3M28.1 38.44V144.7M28.1 38.44H48.4M28.1 144.7H49.2M78.5 171.75V178.5M78.5 171.75H91.3M78.5 178.5H91.3M65.3 175.12V185.25M65.3 175.12H78.5M65.3 185.25H91.3M73.9 198.75V205.5M73.9 198.75H91.3M73.9 205.5H91.3M66.3 192V202.12M66.3 192H91.3M66.3 202.12H73.9M68.2 212.25V219M68.2 212.25H91.3M68.2 219H91.3M50.6 197.06V215.62M50.6 197.06H66.3M50.6 215.62H68.2M44.2 180.19V206.34M44.2 180.19H65.3M44.2 206.34H50.6M21.5 91.57V193.27M21.5 91.57H28.1M21.5 193.27H44.2M58.5 225.75V232.5M58.5 225.75H91.3M58.5 232.5H91.3M82 252.75V259.5M82 252.75H91.3M82 259.5H91.3M79.2 246V256.12M79.2 246H91.3M79.2 256.12H82M86.3 266.25V273M86.3 266.25H91.3M86.3 273H91.3M68.5 251.06V269.62M68.5 251.06H79.2M68.5 269.62H86.3M61.3 239.25V260.34M61.3 239.25H91.3M61.3 260.34H68.5M80.6 286.5V293.25M80.6 286.5H91.3M80.6 293.25H91.3M75.6 289.88V300M75.6 289.88H80.6M75.6 300H91.3M70.3 279.75V294.94M70.3 279.75H91.3M70.3 294.94H75.6M64.2 287.34V306.75M64.2 287.34H70.3M64.2 306.75H91.3M55.3 249.8V297.05M55.3 249.8H61.3M55.3 297.05H64.2M42.4 229.12V273.42M42.4 229.12H58.5M42.4 273.42H55.3M74.2 313.5V320.25M74.2 313.5H91.3M74.2 320.25H91.3M82 333.75V340.5M82 333.75H91.3M82 340.5H91.3M73.5 327V337.12M73.5 327H91.3M73.5 337.12H82M85.6 347.25V354M85.6 347.25H91.3M85.6 354H91.3M86.3 360.75V367.5M86.3 360.75H91.3M86.3 367.5H91.3M78.2 350.62V364.12M78.2 350.62H85.6M78.2 364.12H86.3M82.7 374.25V381M82.7 374.25H91.3M82.7 381H91.3M72 357.38V377.62M72 357.38H78.2M72 377.62H82.7M64.5 332.06V367.5M64.5 332.06H73.5M64.5 367.5H72M81.3 387.75V394.5M81.3 387.75H91.3M81.3 394.5H91.3M84.5 401.25V408M84.5 401.25H91.3M84.5 408H91.3M75.3 391.12V404.62M75.3 391.12H81.3M75.3 404.62H84.5M62.8 349.78V397.88M62.8 349.78H64.5M62.8 397.88H75.3M48.5 316.88V373.83M48.5 316.88H74.2M48.5 373.83H62.8M38.2 345.35V414.75M38.2 345.35H48.5M38.2 414.75H91.3M27.1 251.27V380.05M27.1 251.27H42.4M27.1 380.05H38.2M16.4 142.42V315.66M16.4 142.42H21.5M16.4 315.66H27.1M69.5 428.25V435M69.5 428.25H91.3M69.5 435H91.3M58.5 421.5V431.62M58.5 421.5H91.3M58.5 431.62H69.5M48.2 426.56V441.75M48.2 426.56H58.5M48.2 441.75H91.3M86.3 455.25V462M86.3 455.25H91.3M86.3 462H91.3M83.5 458.62V468.75M83.5 458.62H86.3M83.5 468.75H91.3M78.2 448.5V463.69M78.2 448.5H91.3M78.2 463.69H83.5M84.5 495.75V502.5M84.5 495.75H91.3M84.5 502.5H91.3M82 489V499.12M82 489H91.3M82 499.12H84.5M77 482.25V494.06M77 482.25H91.3M77 494.06H82M68.5 475.5V488.16M68.5 475.5H91.3M68.5 488.16H77M65.3 456.09V481.83M65.3 456.09H78.2M65.3 481.83H68.5M72 509.25V516M72 509.25H91.3M72 516H91.3M64.5 512.62V522.75M64.5 512.62H72M64.5 522.75H91.3M47.8 468.96V517.69M47.8 468.96H65.3M47.8 517.69H64.5M35.4 434.16V493.32M35.4 434.16H48.2M35.4 493.32H47.8M80.6 543V549.75M80.6 543H91.3M80.6 549.75H91.3M72 536.25V546.38M72 536.25H91.3M72 546.38H80.6M77 556.5V563.25M77 556.5H91.3M77 563.25H91.3M62.5 541.31V559.88M62.5 541.31H72M62.5 559.88H77M50.2 529.5V550.59M50.2 529.5H91.3M50.2 550.59H62.5M66.3 576.75V583.5M66.3 576.75H91.3M66.3 583.5H91.3M61.3 570V580.12M61.3 570H91.3M61.3 580.12H66.3M46.8 540.05V575.06M46.8 540.05H50.2M46.8 575.06H61.3M27.5 463.74V557.55M27.5 463.74H35.4M27.5 557.55H46.8M4.3 229.04V510.65M4.3 229.04H16.4M4.3 510.65H27.5M60.4 590.25V597M60.4 590.25H91.3M60.4 597H91.3M63.3 603.75V610.5M63.3 603.75H91.3M63.3 610.5H91.3M43.7 593.62V607.12M43.7 593.62H60.4M43.7 607.12H63.3M70.5 624V630.75M70.5 624H91.3M70.5 630.75H91.3M66.4 627.38V637.5M66.4 627.38H70.5M66.4 637.5H91.3M56.3 617.25V632.44M56.3 617.25H91.3M56.3 632.44H66.4M77.9 644.25V651M77.9 644.25H91.3M77.9 651H91.3M42 624.84V647.62M42 624.84H56.3M42 647.62H77.9M20.9 600.38V636.23M20.9 600.38H43.7M20.9 636.23H42M53.5 664.5V671.25M53.5 664.5H91.3M53.5 671.25H91.3M42.4 657.75V667.88M42.4 657.75H91.3M42.4 667.88H53.5M15.8 618.3V662.81M15.8 618.3H20.9M15.8 662.81H42.4M60.4 678V684.75M60.4 678H91.3M60.4 684.75H91.3M41.6 681.38V691.5M41.6 681.38H60.4M41.6 691.5H91.3M23.7 686.44V698.25M23.7 686.44H41.6M23.7 698.25H91.3M10.6 640.56V692.34M10.6 640.56H15.8M10.6 692.34H23.7M2.4 369.84V666.45M2.4 369.84H4.3M2.4 666.45H10.6" stroke="#2b2b2b" stroke-width="1" fill="none" stroke-linecap="square"/>
<g fill="#1e1e1e" stroke="#1e1e1e" stroke-width="0.12">
<text transform="translate(270.40 32.75) scale(0.9500 1)" font-size="7.80" style="font-family:'Liberation Sans',sans-serif;">LcERF32</text>
<text transform="translate(270.40 39.50) scale(0.9500 1)" font-size="7.80" style="font-family:'Liberation Sans',sans-serif;">LcAP2#5</text>
<text transform="translate(270.40 46.25) scale(0.9500 1)" font-size="7.80" style="font-family:'Liberation Sans',sans-serif;">LcAP2#27</text>
<text transform="translate(270.40 53.00) scale(0.9500 1)" font-size="7.80" style="font-family:'Liberation Sans',sans-serif;">LcERF136</text>
<text transform="translate(270.40 59.75) scale(0.9500 1)" font-size="7.80" style="font-family:'Liberation Sans',sans-serif;">LcAP2#26</text>
<text transform="translate(270.40 66.50) scale(0.9500 1)" font-size="7.80" style="font-family:'Liberation Sans',sans-serif;">LcERF1</text>
<text transform="translate(270.40 73.25) scale(0.9500 1)" font-size="7.80" style="font-family:'Liberation Sans',sans-serif;">LcERF101</text>
<text transform="translate(270.40 80.00) scale(0.9500 1)" font-size="7.80" style="font-family:'Liberation Sans',sans-serif;">LcERF41</text>
<text transform="translate(270.40 86.75) scale(0.9500 1)" font-size="7.80" style="font-family:'Liberation Sans',sans-serif;">LcRAV7</text>
<text transform="translate(270.40 93.50) scale(0.9500 1)" font-size="7.80" style="font-family:'Liberation Sans',sans-serif;" fill="#d8414c" stroke="#d8414c">LcTPS42</text>
<text transform="translate(270.40 100.25) scale(0.9500 1)" font-size="7.80" style="font-family:'Liberation Sans',sans-serif;" fill="#d8414c" stroke="#d8414c">LcERF19</text>
<text transform="translate(270.40 107.00) scale(0.9500 1)" font-size="7.80" style="font-family:'Liberation Sans',sans-serif;">LcERF109</text>
<text transform="translate(270.40 113.75) scale(0.9500 1)" font-size="7.80" style="font-family:'Liberation Sans',sans-serif;">LcERF17</text>
<text transform="translate(270.40 120.50) scale(0.9500 1)" font-size="7.80" style="font-family:'Liberation Sans',sans-serif;">LcERF134</text>
<text transform="translate(270.40 127.25) scale(0.9500 1)" font-size="7.80" style="font-family:'Liberation Sans',sans-serif;">LcERF110</text>
<text transform="translate(270.40 134.00) scale(0.9500 1)" font-size="7.80" style="font-family:'Liberation Sans',sans-serif;">LcERF138</text>
<text transform="translate(270.40 140.75) scale(0.9500 1)" font-size="7.80" style="font-family:'Liberation Sans',sans-serif;">LcERF3</text>
<text transform="translate(270.40 147.50) scale(0.9500 1)" font-size="7.80" style="font-family:'Liberation Sans',sans-serif;">LcERF48</text>
<text transform="translate(270.40 154.25) scale(0.9500 1)" font-size="7.80" style="font-family:'Liberation Sans',sans-serif;">LcERF104</text>
<text transform="translate(270.40 161.00) scale(0.9500 1)" font-size="7.80" style="font-family:'Liberation Sans',sans-serif;">LcERF121</text>
<text transform="translate(270.40 167.75) scale(0.9500 1)" font-size="7.80" style="font-family:'Liberation Sans',sans-serif;">LcERF73</text>
<text transform="translate(270.40 174.50) scale(0.9500 1)" font-size="7.80" style="font-family:'Liberation Sans',sans-serif;">LcERF65</text>
<text transform="translate(270.40 181.25) scale(0.9500 1)" font-size="7.80" style="font-family:'Liberation Sans',sans-serif;">LcERF99</text>
<text transform="translate(270.40 188.00) scale(0.9500 1)" font-size="7.80" style="font-family:'Liberation Sans',sans-serif;">LcERF100</text>
<text transform="translate(270.40 194.75) scale(0.9500 1)" font-size="7.80" style="font-family:'Liberation Sans',sans-serif;">LcERF119</text>
<text transform="translate(270.40 201.50) scale(0.9500 1)" font-size="7.80" style="font-family:'Liberation Sans',sans-serif;">LcAP2#21</text>
<text transform="translate(270.40 208.25) scale(0.9500 1)" font-size="7.80" style="font-family:'Liberation Sans',sans-serif;">LcERF106</text>
<text transform="translate(270.40 215.00) scale(0.9500 1)" font-size="7.80" style="font-family:'Liberation Sans',sans-serif;">LcERF58</text>
<text transform="translate(270.40 221.75) scale(0.9500 1)" font-size="7.80" style="font-family:'Liberation Sans',sans-serif;">LcERF133</text>
<text transform="translate(270.40 228.50) scale(0.9500 1)" font-size="7.80" style="font-family:'Liberation Sans',sans-serif;">LcAP2#20</text>
<text transform="translate(270.40 235.25) scale(0.9500 1)" font-size="7.80" style="font-family:'Liberation Sans',sans-serif;">LcERF39</text>
<text transform="translate(270.40 242.00) scale(0.9500 1)" font-size="7.80" style="font-family:'Liberation Sans',sans-serif;">LcERF56</text>
<text transform="translate(270.40 248.75) scale(0.9500 1)" font-size="7.80" style="font-family:'Liberation Sans',sans-serif;">LcERF49</text>
<text transform="translate(270.40 255.50) scale(0.9500 1)" font-size="7.80" style="font-family:'Liberation Sans',sans-serif;">LcERF33</text>
<text transform="translate(270.40 262.25) scale(0.9500 1)" font-size="7.80" style="font-family:'Liberation Sans',sans-serif;">LcERF18</text>
<text transform="translate(270.40 269.00) scale(0.9500 1)" font-size="7.80" style="font-family:'Liberation Sans',sans-serif;">LcERF70</text>
<text transform="translate(270.40 275.75) scale(0.9500 1)" font-size="7.80" style="font-family:'Liberation Sans',sans-serif;">LcERF37</text>
<text transform="translate(270.40 282.50) scale(0.9500 1)" font-size="7.80" style="font-family:'Liberation Sans',sans-serif;">LcERF20</text>
<text transform="translate(270.40 289.25) scale(0.9500 1)" font-size="7.80" style="font-family:'Liberation Sans',sans-serif;">LcERF98</text>
<text transform="translate(270.40 296.00) scale(0.9500 1)" font-size="7.80" style="font-family:'Liberation Sans',sans-serif;">LcERF47</text>
<text transform="translate(270.40 302.75) scale(0.9500 1)" font-size="7.80" style="font-family:'Liberation Sans',sans-serif;">LcERF16</text>
<text transform="translate(270.40 309.50) scale(0.9500 1)" font-size="7.80" style="font-family:'Liberation Sans',sans-serif;">LcERF123</text>
<text transform="translate(270.40 316.25) scale(0.9500 1)" font-size="7.80" style="font-family:'Liberation Sans',sans-serif;">LcERF25</text>
<text transform="translate(270.40 323.00) scale(0.9500 1)" font-size="7.80" style="font-family:'Liberation Sans',sans-serif;">LcERF59</text>
<text transform="translate(270.40 329.75) scale(0.9500 1)" font-size="7.80" style="font-family:'Liberation Sans',sans-serif;">LcERF14</text>
<text transform="translate(270.40 336.50) scale(0.9500 1)" font-size="7.80" style="font-family:'Liberation Sans',sans-serif;">LcERF57</text>
<text transform="translate(270.40 343.25) scale(0.9500 1)" font-size="7.80" style="font-family:'Liberation Sans',sans-serif;">LcERF94</text>
<text transform="translate(270.40 350.00) scale(0.9500 1)" font-size="7.80" style="font-family:'Liberation Sans',sans-serif;">LcERF53</text>
<text transform="translate(270.40 356.75) scale(0.9500 1)" font-size="7.80" style="font-family:'Liberation Sans',sans-serif;">LcERF111</text>
<text transform="translate(270.40 363.50) scale(0.9500 1)" font-size="7.80" style="font-family:'Liberation Sans',sans-serif;">LcERF112</text>
<text transform="translate(270.40 370.25) scale(0.9500 1)" font-size="7.80" style="font-family:'Liberation Sans',sans-serif;">LcERF30</text>
<text transform="translate(270.40 377.00) scale(0.9500 1)" font-size="7.80" style="font-family:'Liberation Sans',sans-serif;">LcERF129</text>
<text transform="translate(270.40 383.75) scale(0.9500 1)" font-size="7.80" style="font-family:'Liberation Sans',sans-serif;">LcERF88</text>
<text transform="translate(270.40 390.50) scale(0.9500 1)" font-size="7.80" style="font-family:'Liberation Sans',sans-serif;">LcERF29</text>
<text transform="translate(270.40 397.25) scale(0.9500 1)" font-size="7.80" style="font-family:'Liberation Sans',sans-serif;">LcERF26</text>
<text transform="translate(270.40 404.00) scale(0.9500 1)" font-size="7.80" style="font-family:'Liberation Sans',sans-serif;">LcERF72</text>
<text transform="translate(270.40 410.75) scale(0.9500 1)" font-size="7.80" style="font-family:'Liberation Sans',sans-serif;">LcERF27</text>
<text transform="translate(270.40 417.50) scale(0.9500 1)" font-size="7.80" style="font-family:'Liberation Sans',sans-serif;">LcERF87</text>
<text transform="translate(270.40 424.25) scale(0.9500 1)" font-size="7.80" style="font-family:'Liberation Sans',sans-serif;">LcERF31</text>
<text transform="translate(270.40 431.00) scale(0.9500 1)" font-size="7.80" style="font-family:'Liberation Sans',sans-serif;">LcERF62</text>
<text transform="translate(270.40 437.75) scale(0.9500 1)" font-size="7.80" style="font-family:'Liberation Sans',sans-serif;">LcERF61</text>
<text transform="translate(270.40 444.50) scale(0.9500 1)" font-size="7.80" style="font-family:'Liberation Sans',sans-serif;">LcERF35</text>
<text transform="translate(270.40 451.25) scale(0.9500 1)" font-size="7.80" style="font-family:'Liberation Sans',sans-serif;">LcERF43</text>
<text transform="translate(270.40 458.00) scale(0.9500 1)" font-size="7.80" style="font-family:'Liberation Sans',sans-serif;">LcAP2#14</text>
<text transform="translate(270.40 464.75) scale(0.9500 1)" font-size="7.80" style="font-family:'Liberation Sans',sans-serif;">LcAP2#7</text>
<text transform="translate(270.40 471.50) scale(0.9500 1)" font-size="7.80" style="font-family:'Liberation Sans',sans-serif;">LcAP2#8</text>
<text transform="translate(270.40 478.25) scale(0.9500 1)" font-size="7.80" style="font-family:'Liberation Sans',sans-serif;">LcAP2#3</text>
<text transform="translate(270.40 485.00) scale(0.9500 1)" font-size="7.80" style="font-family:'Liberation Sans',sans-serif;">LcERF115</text>
<text transform="translate(270.40 491.75) scale(0.9500 1)" font-size="7.80" style="font-family:'Liberation Sans',sans-serif;">LcAP2#6</text>
<text transform="translate(270.40 498.50) scale(0.9500 1)" font-size="7.80" style="font-family:'Liberation Sans',sans-serif;">LcERF38</text>
<text transform="translate(270.40 505.25) scale(0.9500 1)" font-size="7.80" style="font-family:'Liberation Sans',sans-serif;">LcERF120</text>
<text transform="translate(270.40 512.00) scale(0.9500 1)" font-size="7.80" style="font-family:'Liberation Sans',sans-serif;">LcERF114</text>
<text transform="translate(270.40 518.75) scale(0.9500 1)" font-size="7.80" style="font-family:'Liberation Sans',sans-serif;">LcERF122</text>
<text transform="translate(270.40 525.50) scale(0.9500 1)" font-size="7.80" style="font-family:'Liberation Sans',sans-serif;">LcAP2#25</text>
<text transform="translate(270.40 532.25) scale(0.9500 1)" font-size="7.80" style="font-family:'Liberation Sans',sans-serif;">LcERF10</text>
<text transform="translate(270.40 539.00) scale(0.9500 1)" font-size="7.80" style="font-family:'Liberation Sans',sans-serif;">LcERF54</text>
<text transform="translate(270.40 545.75) scale(0.9500 1)" font-size="7.80" style="font-family:'Liberation Sans',sans-serif;">LcERF86</text>
<text transform="translate(270.40 552.50) scale(0.9500 1)" font-size="7.80" style="font-family:'Liberation Sans',sans-serif;">LcERF8</text>
<text transform="translate(270.40 559.25) scale(0.9500 1)" font-size="7.80" style="font-family:'Liberation Sans',sans-serif;">LcERF132</text>
<text transform="translate(270.40 566.00) scale(0.9500 1)" font-size="7.80" style="font-family:'Liberation Sans',sans-serif;">LcERF40</text>
<text transform="translate(270.40 572.75) scale(0.9500 1)" font-size="7.80" style="font-family:'Liberation Sans',sans-serif;">LcERF117</text>
<text transform="translate(270.40 579.50) scale(0.9500 1)" font-size="7.80" style="font-family:'Liberation Sans',sans-serif;">LcERF102</text>
<text transform="translate(270.40 586.25) scale(0.9500 1)" font-size="7.80" style="font-family:'Liberation Sans',sans-serif;">LcERF128</text>
<text transform="translate(270.40 593.00) scale(0.9500 1)" font-size="7.80" style="font-family:'Liberation Sans',sans-serif;">LcERF36</text>
<text transform="translate(270.40 599.75) scale(0.9500 1)" font-size="7.80" style="font-family:'Liberation Sans',sans-serif;">LcAP2#10</text>
<text transform="translate(270.40 606.50) scale(0.9500 1)" font-size="7.80" style="font-family:'Liberation Sans',sans-serif;">LcRAV2</text>
<text transform="translate(270.40 613.25) scale(0.9500 1)" font-size="7.80" style="font-family:'Liberation Sans',sans-serif;">LcAP2#16</text>
<text transform="translate(270.40 620.00) scale(0.9500 1)" font-size="7.80" style="font-family:'Liberation Sans',sans-serif;">LcAP2#15</text>
<text transform="translate(270.40 626.75) scale(0.9500 1)" font-size="7.80" style="font-family:'Liberation Sans',sans-serif;">LcERF12</text>
<text transform="translate(270.40 633.50) scale(0.9500 1)" font-size="7.80" style="font-family:'Liberation Sans',sans-serif;">LcERF4</text>
<text transform="translate(270.40 640.25) scale(0.9500 1)" font-size="7.80" style="font-family:'Liberation Sans',sans-serif;">LcERF13</text>
<text transform="translate(270.40 647.00) scale(0.9500 1)" font-size="7.80" style="font-family:'Liberation Sans',sans-serif;">LcERF89</text>
<text transform="translate(270.40 653.75) scale(0.9500 1)" font-size="7.80" style="font-family:'Liberation Sans',sans-serif;">LcERF90</text>
<text transform="translate(270.40 660.50) scale(0.9500 1)" font-size="7.80" style="font-family:'Liberation Sans',sans-serif;">LcERF63</text>
<text transform="translate(270.40 667.25) scale(0.9500 1)" font-size="7.80" style="font-family:'Liberation Sans',sans-serif;">LcERF24</text>
<text transform="translate(270.40 674.00) scale(0.9500 1)" font-size="7.80" style="font-family:'Liberation Sans',sans-serif;">LcERF95</text>
<text transform="translate(270.40 680.75) scale(0.9500 1)" font-size="7.80" style="font-family:'Liberation Sans',sans-serif;">LcAP2#4</text>
<text transform="translate(270.40 687.50) scale(0.9500 1)" font-size="7.80" style="font-family:'Liberation Sans',sans-serif;">LcERF55</text>
<text transform="translate(270.40 694.25) scale(0.9500 1)" font-size="7.80" style="font-family:'Liberation Sans',sans-serif;">LcAP2#11</text>
<text transform="translate(270.40 701.00) scale(0.9500 1)" font-size="7.80" style="font-family:'Liberation Sans',sans-serif;">LcAP2#23</text>
</g>
<g fill="#1e1e1e" stroke="#1e1e1e">
<text transform="translate(306.90 32.50) scale(0.8937 1)" font-size="7.30" stroke-width="0.10" style="font-family:'Liberation Serif',serif;font-weight:bold;">Group IXb</text>
<text transform="translate(306.90 100.00) scale(0.8937 1)" font-size="7.30" stroke-width="0.10" style="font-family:'Liberation Serif',serif;font-weight:bold;">Group IXb</text>
<text transform="translate(306.90 106.75) scale(0.8937 1)" font-size="7.30" stroke-width="0.10" style="font-family:'Liberation Serif',serif;font-weight:bold;">Group IXb</text>
<text transform="translate(306.90 113.50) scale(0.8937 1)" font-size="7.30" stroke-width="0.10" style="font-family:'Liberation Serif',serif;font-weight:bold;">Group IXb</text>
<text transform="translate(306.90 127.00) scale(0.8937 1)" font-size="7.30" stroke-width="0.10" style="font-family:'Liberation Serif',serif;font-weight:bold;">Group IXb</text>
<text transform="translate(306.90 208.00) scale(0.8811 1)" font-size="7.30" stroke-width="0.10" style="font-family:'Liberation Serif',serif;font-weight:bold;">Group IXa</text>
<text transform="translate(306.90 214.75) scale(0.8811 1)" font-size="7.30" stroke-width="0.10" style="font-family:'Liberation Serif',serif;font-weight:bold;">Group IXa</text>
<text transform="translate(306.90 221.50) scale(0.8811 1)" font-size="7.30" stroke-width="0.10" style="font-family:'Liberation Serif',serif;font-weight:bold;">Group IXa</text>
</g>
<g fill="#2a2a2a" stroke="#2a2a2a">
<text transform="translate(103.90 23.60) rotate(-45.00)" font-size="7.60" stroke-width="0.08" style="font-family:'Liberation Sans',sans-serif;">DAF15</text>
<text transform="translate(121.30 23.60) rotate(-45.00)" font-size="7.60" stroke-width="0.08" style="font-family:'Liberation Sans',sans-serif;">DAF30</text>
<text transform="translate(138.70 23.60) rotate(-45.00)" font-size="7.60" stroke-width="0.08" style="font-family:'Liberation Sans',sans-serif;">DAF45</text>
<text transform="translate(156.10 23.60) rotate(-45.00)" font-size="7.60" stroke-width="0.08" style="font-family:'Liberation Sans',sans-serif;">DAF60</text>
<text transform="translate(173.50 23.60) rotate(-45.00)" font-size="7.60" stroke-width="0.08" style="font-family:'Liberation Sans',sans-serif;">DAF75</text>
<text transform="translate(190.90 23.60) rotate(-45.00)" font-size="7.60" stroke-width="0.08" style="font-family:'Liberation Sans',sans-serif;">DAF90</text>
<text transform="translate(208.30 23.60) rotate(-45.00)" font-size="7.60" stroke-width="0.08" style="font-family:'Liberation Sans',sans-serif;">DAF105</text>
<text transform="translate(225.70 23.60) rotate(-45.00)" font-size="7.60" stroke-width="0.08" style="font-family:'Liberation Sans',sans-serif;">DAF120</text>
<text transform="translate(243.10 23.60) rotate(-45.00)" font-size="7.60" stroke-width="0.08" style="font-family:'Liberation Sans',sans-serif;">DAF135</text>
<text transform="translate(260.50 23.60) rotate(-45.00)" font-size="7.60" stroke-width="0.08" style="font-family:'Liberation Sans',sans-serif;">DAF150</text>
</g>
<rect x="7.2" y="25.2" width="334.2" height="197" fill="none" stroke="#cf5660" stroke-width="1.5"/>
<rect x="316" y="326.2" width="15" height="59.5" fill="url(#lgd)"/>
<path d="M316 329.4h3.5M327.5 329.4h3.5" stroke="#fff" stroke-width="0.8"/>
<path d="M316 352.3h3.5M327.5 352.3h3.5" stroke="#fff" stroke-width="0.8"/>
<path d="M316 375.1h3.5M327.5 375.1h3.5" stroke="#fff" stroke-width="0.8"/>
<g fill="#000" stroke="#000" stroke-width="0.13">
<text transform="translate(334.20 333.60)" font-size="11.00" style="font-family:'Liberation Sans',sans-serif;">2</text>
<text transform="translate(334.20 356.80)" font-size="11.00" style="font-family:'Liberation Sans',sans-serif;">1</text>
<text transform="translate(334.20 379.70)" font-size="11.00" style="font-family:'Liberation Sans',sans-serif;">0</text>
<text transform="translate(333.60 403.80)" font-size="11.00" style="font-family:'Liberation Sans',sans-serif;">-1</text>
</g>
<g fill="#000">
<text transform="translate(0.10 19.40) scale(1.0800 1)" font-size="19.70" style="font-family:'Liberation Serif',serif;font-weight:bold;">(a)</text>
<text transform="translate(342.90 14.60) scale(1.0800 1)" font-size="19.50" style="font-family:'Liberation Serif',serif;font-weight:bold;">(b)</text>
<text transform="translate(352.80 354.80) scale(1.0800 1)" font-size="19.50" style="font-family:'Liberation Serif',serif;font-weight:bold;">(c)</text>
</g>
<g fill="#3d3d3d" stroke="#222" stroke-width="0.5"><rect x="405.16" y="50.45" width="11.7" height="110.05"/><rect x="434.39" y="150.26" width="11.7" height="10.24"/><rect x="463.62" y="102.74" width="11.7" height="57.76"/><rect x="492.85" y="133.74" width="11.7" height="26.76"/><rect x="522.08" y="136.07" width="11.7" height="24.43"/><rect x="551.31" y="148.87" width="11.7" height="11.63"/><rect x="580.54" y="150.61" width="11.7" height="9.89"/><rect x="609.77" y="48.59" width="11.7" height="111.91"/><rect x="639" y="72.44" width="11.7" height="88.06"/></g>
<path d="M393.6 20.9V160.5M389.8 160.5H659.5M391.6 146.54H393.6M389.8 132.58H393.6M391.6 118.62H393.6M389.8 104.66H393.6M391.6 90.7H393.6M389.8 76.74H393.6M391.6 62.78H393.6M389.8 48.82H393.6M391.6 34.86H393.6M389.8 20.9H393.6M396.4 160.5V164.1M425.63 160.5V164.1M454.86 160.5V164.1M484.09 160.5V164.1M513.32 160.5V164.1M542.55 160.5V164.1M571.78 160.5V164.1M601.01 160.5V164.1M630.24 160.5V164.1M659.47 160.5V164.1M411.01 43.7V57.2M407.12 43.7H414.91M407.12 57.2H414.91M440.25 148.75V151.78M436.35 148.75H444.14M436.35 151.78H444.14M469.47 95.99V109.49M465.57 95.99H473.37M465.57 109.49H473.37M498.7 132.35V135.14M494.81 132.35H502.6M494.81 135.14H502.6M527.93 133.74V138.4M524.03 133.74H531.83M524.03 138.4H531.83M557.16 147.35V150.38M553.26 147.35H561.06M553.26 150.38H561.06M586.39 149.33V151.89M582.5 149.33H590.29M582.5 151.89H590.29M615.62 39.98V57.2M611.73 39.98H619.52M611.73 57.2H619.52M644.86 67.55V77.32M640.96 67.55H648.75M640.96 77.32H648.75" stroke="#111" stroke-width="1" fill="none"/>
<g fill="#111" stroke="#111"><text transform="translate(387.30 163.02)" font-size="7.40" text-anchor="end" stroke-width="0.24" style="font-family:'Liberation Serif',serif;font-weight:bold;">0.00</text><text transform="translate(387.30 135.10)" font-size="7.40" text-anchor="end" stroke-width="0.24" style="font-family:'Liberation Serif',serif;font-weight:bold;">0.24</text><text transform="translate(387.30 107.18)" font-size="7.40" text-anchor="end" stroke-width="0.24" style="font-family:'Liberation Serif',serif;font-weight:bold;">0.48</text><text transform="translate(387.30 79.26)" font-size="7.40" text-anchor="end" stroke-width="0.24" style="font-family:'Liberation Serif',serif;font-weight:bold;">0.72</text><text transform="translate(387.30 51.34)" font-size="7.40" text-anchor="end" stroke-width="0.24" style="font-family:'Liberation Serif',serif;font-weight:bold;">0.96</text><text transform="translate(387.30 23.42)" font-size="7.40" text-anchor="end" stroke-width="0.24" style="font-family:'Liberation Serif',serif;font-weight:bold;">1.20</text><text transform="translate(417.01 167.00) rotate(-29.00)" font-size="9.00" text-anchor="end" stroke-width="0.24" style="font-family:'Liberation Serif',serif;font-weight:bold;">Root</text><text transform="translate(446.25 167.00) rotate(-29.00)" font-size="9.00" text-anchor="end" stroke-width="0.24" style="font-family:'Liberation Serif',serif;font-weight:bold;">Stem</text><text transform="translate(475.47 167.00) rotate(-29.00)" font-size="9.00" text-anchor="end" stroke-width="0.24" style="font-family:'Liberation Serif',serif;font-weight:bold;">Leaf</text><text transform="translate(504.70 167.00) rotate(-29.00)" font-size="9.00" text-anchor="end" stroke-width="0.24" style="font-family:'Liberation Serif',serif;font-weight:bold;">Flower</text><text transform="translate(533.93 167.00) rotate(-29.00)" font-size="9.00" text-anchor="end" stroke-width="0.24" style="font-family:'Liberation Serif',serif;font-weight:bold;">DAF30</text><text transform="translate(563.16 167.00) rotate(-29.00)" font-size="9.00" text-anchor="end" stroke-width="0.24" style="font-family:'Liberation Serif',serif;font-weight:bold;">DAF60</text><text transform="translate(592.39 167.00) rotate(-29.00)" font-size="9.00" text-anchor="end" stroke-width="0.24" style="font-family:'Liberation Serif',serif;font-weight:bold;">DAF90</text><text transform="translate(621.62 167.00) rotate(-29.00)" font-size="9.00" text-anchor="end" stroke-width="0.24" style="font-family:'Liberation Serif',serif;font-weight:bold;">DAF120</text><text transform="translate(650.86 167.00) rotate(-29.00)" font-size="9.00" text-anchor="end" stroke-width="0.24" style="font-family:'Liberation Serif',serif;font-weight:bold;">DAF150</text><text transform="translate(421.90 29.40)" font-size="10.80" stroke-width="0.24" style="font-family:'Liberation Serif',serif;font-weight:bold;font-style:italic;">LcERF19</text><text transform="translate(370.00 90.70) rotate(-90.00)" font-size="10.60" text-anchor="middle" stroke-width="0.24" style="font-family:'Liberation Serif',serif;font-weight:bold;">Relative expression level</text></g>
<g fill="#3d3d3d" stroke="#222" stroke-width="0.5"><rect x="408.25" y="330.43" width="12" height="0.6"/><rect x="437.74" y="325" width="12" height="5.9"/><rect x="467.23" y="327.6" width="12" height="3.3"/><rect x="496.71" y="316.27" width="12" height="14.63"/><rect x="526.2" y="313.91" width="12" height="16.99"/><rect x="555.69" y="305.65" width="12" height="25.25"/><rect x="585.18" y="318.63" width="12" height="12.27"/><rect x="614.67" y="211.96" width="12" height="118.94"/><rect x="644.16" y="277.33" width="12" height="53.57"/></g>
<path d="M396.6 189.3V330.9M392.8 330.9H665M394.6 316.74H396.6M392.8 302.58H396.6M394.6 288.42H396.6M392.8 274.26H396.6M394.6 260.1H396.6M392.8 245.94H396.6M394.6 231.78H396.6M392.8 217.62H396.6M394.6 203.46H396.6M392.8 189.3H396.6M399.5 330.9V334.5M428.99 330.9V334.5M458.48 330.9V334.5M487.97 330.9V334.5M517.46 330.9V334.5M546.95 330.9V334.5M576.44 330.9V334.5M605.93 330.9V334.5M635.42 330.9V334.5M664.91 330.9V334.5M443.74 324.29V325.71M439.84 324.29H447.63M439.84 325.71H447.63M473.23 327.22V327.97M469.33 327.22H477.12M469.33 327.97H477.12M502.71 315.32V317.21M498.81 315.32H506.61M498.81 317.21H506.61M532.2 312.96V314.85M528.3 312.96H536.1M528.3 314.85H536.1M561.69 304.23V307.06M557.79 304.23H565.59M557.79 307.06H565.59M591.18 317.92V319.34M587.28 317.92H595.08M587.28 319.34H595.08M620.67 206.76V217.15M616.77 206.76H624.57M616.77 217.15H624.57M650.16 272.14V282.52M646.26 272.14H654.06M646.26 282.52H654.06" stroke="#111" stroke-width="1" fill="none"/>
<g fill="#111" stroke="#111"><text transform="translate(390.30 333.42)" font-size="7.40" text-anchor="end" stroke-width="0.24" style="font-family:'Liberation Serif',serif;font-weight:bold;">0</text><text transform="translate(390.30 305.10)" font-size="7.40" text-anchor="end" stroke-width="0.24" style="font-family:'Liberation Serif',serif;font-weight:bold;">60</text><text transform="translate(390.30 276.78)" font-size="7.40" text-anchor="end" stroke-width="0.24" style="font-family:'Liberation Serif',serif;font-weight:bold;">120</text><text transform="translate(390.30 248.46)" font-size="7.40" text-anchor="end" stroke-width="0.24" style="font-family:'Liberation Serif',serif;font-weight:bold;">180</text><text transform="translate(390.30 220.14)" font-size="7.40" text-anchor="end" stroke-width="0.24" style="font-family:'Liberation Serif',serif;font-weight:bold;">240</text><text transform="translate(390.30 191.82)" font-size="7.40" text-anchor="end" stroke-width="0.24" style="font-family:'Liberation Serif',serif;font-weight:bold;">300</text><text transform="translate(420.25 337.40) rotate(-29.00)" font-size="9.00" text-anchor="end" stroke-width="0.24" style="font-family:'Liberation Serif',serif;font-weight:bold;">Root</text><text transform="translate(449.74 337.40) rotate(-29.00)" font-size="9.00" text-anchor="end" stroke-width="0.24" style="font-family:'Liberation Serif',serif;font-weight:bold;">Stem</text><text transform="translate(479.23 337.40) rotate(-29.00)" font-size="9.00" text-anchor="end" stroke-width="0.24" style="font-family:'Liberation Serif',serif;font-weight:bold;">Leaf</text><text transform="translate(508.71 337.40) rotate(-29.00)" font-size="9.00" text-anchor="end" stroke-width="0.24" style="font-family:'Liberation Serif',serif;font-weight:bold;">Flower</text><text transform="translate(538.20 337.40) rotate(-29.00)" font-size="9.00" text-anchor="end" stroke-width="0.24" style="font-family:'Liberation Serif',serif;font-weight:bold;">DAF30</text><text transform="translate(567.69 337.40) rotate(-29.00)" font-size="9.00" text-anchor="end" stroke-width="0.24" style="font-family:'Liberation Serif',serif;font-weight:bold;">DAF60</text><text transform="translate(597.18 337.40) rotate(-29.00)" font-size="9.00" text-anchor="end" stroke-width="0.24" style="font-family:'Liberation Serif',serif;font-weight:bold;">DAF90</text><text transform="translate(626.67 337.40) rotate(-29.00)" font-size="9.00" text-anchor="end" stroke-width="0.24" style="font-family:'Liberation Serif',serif;font-weight:bold;">DAF120</text><text transform="translate(656.16 337.40) rotate(-29.00)" font-size="9.00" text-anchor="end" stroke-width="0.24" style="font-family:'Liberation Serif',serif;font-weight:bold;">DAF150</text><text transform="translate(425.00 198.80)" font-size="10.80" stroke-width="0.24" style="font-family:'Liberation Serif',serif;font-weight:bold;font-style:italic;">LcTPS42</text><text transform="translate(374.20 260.10) rotate(-90.00)" font-size="10.60" text-anchor="middle" stroke-width="0.24" style="font-family:'Liberation Serif',serif;font-weight:bold;">Relative expression level</text></g>
<g fill="#3d3d3d" stroke="#222" stroke-width="0.5"><rect x="403.45" y="429.79" width="9.5" height="73.41"/><rect x="423.45" y="403.89" width="9.5" height="99.31"/><rect x="443.45" y="413.61" width="9.5" height="89.59"/></g>
<path d="M396.8 364.3V503.2M393 503.2H458.3M394.8 489.31H396.8M393 475.42H396.8M394.8 461.53H396.8M393 447.64H396.8M394.8 433.75H396.8M393 419.86H396.8M394.8 405.97H396.8M393 392.08H396.8M394.8 378.19H396.8M393 364.3H396.8M398.2 503.2V506.8M418.2 503.2V506.8M438.2 503.2V506.8M458.2 503.2V506.8M408.2 426.32V433.26M405.6 426.32H410.8M405.6 433.26H410.8M428.2 398.68V409.1M425.6 398.68H430.8M425.6 409.1H430.8M448.2 407.36V419.86M445.6 407.36H450.8M445.6 419.86H450.8" stroke="#111" stroke-width="1" fill="none"/>
<g fill="#111" stroke="#111"><text transform="translate(389.60 506.02)" font-size="8.30" text-anchor="end" stroke-width="0.24" style="font-family:'Liberation Serif',serif;font-weight:bold;">0.0</text><text transform="translate(389.60 478.24)" font-size="8.30" text-anchor="end" stroke-width="0.24" style="font-family:'Liberation Serif',serif;font-weight:bold;">0.4</text><text transform="translate(389.60 450.46)" font-size="8.30" text-anchor="end" stroke-width="0.24" style="font-family:'Liberation Serif',serif;font-weight:bold;">0.8</text><text transform="translate(389.60 422.68)" font-size="8.30" text-anchor="end" stroke-width="0.24" style="font-family:'Liberation Serif',serif;font-weight:bold;">1.2</text><text transform="translate(389.60 394.90)" font-size="8.30" text-anchor="end" stroke-width="0.24" style="font-family:'Liberation Serif',serif;font-weight:bold;">1.6</text><text transform="translate(389.60 367.12)" font-size="8.30" text-anchor="end" stroke-width="0.24" style="font-family:'Liberation Serif',serif;font-weight:bold;">2.0</text><text transform="translate(412.70 509.50) rotate(-30.00)" font-size="8.80" text-anchor="end" stroke-width="0.24" style="font-family:'Liberation Serif',serif;font-weight:bold;">JA-0μM</text><text transform="translate(432.70 509.50) rotate(-30.00)" font-size="8.80" text-anchor="end" stroke-width="0.24" style="font-family:'Liberation Serif',serif;font-weight:bold;">JA-100μM</text><text transform="translate(452.70 509.50) rotate(-30.00)" font-size="8.80" text-anchor="end" stroke-width="0.24" style="font-family:'Liberation Serif',serif;font-weight:bold;">JA-250μM</text><text transform="translate(404.70 375.00)" font-size="10.60" stroke-width="0.24" style="font-family:'Liberation Serif',serif;font-weight:bold;font-style:italic;">LcJAR1</text><text transform="translate(376.00 433.00) rotate(-90.00)" font-size="10.00" text-anchor="middle" stroke-width="0.24" style="font-family:'Liberation Serif',serif;font-weight:bold;">Relative expression level</text></g>
<g fill="#3d3d3d" stroke="#222" stroke-width="0.5"><rect x="503.95" y="435.71" width="9.3" height="68.79"/><rect x="523.95" y="431.31" width="9.3" height="73.19"/><rect x="543.95" y="395.28" width="9.3" height="109.22"/></g>
<path d="M497.2 365.1V504.5M493.4 504.5H558.6M495.2 490.56H497.2M493.4 476.62H497.2M495.2 462.68H497.2M493.4 448.74H497.2M495.2 434.8H497.2M493.4 420.86H497.2M495.2 406.92H497.2M493.4 392.98H497.2M495.2 379.04H497.2M493.4 365.1H497.2M498.6 504.5V508.1M518.6 504.5V508.1M538.6 504.5V508.1M558.6 504.5V508.1M508.6 434.31V437.1M506 434.31H511.2M506 437.1H511.2M528.6 419.47V443.16M526 419.47H531.2M526 443.16H531.2M548.6 388.31V402.25M546 388.31H551.2M546 402.25H551.2" stroke="#111" stroke-width="1" fill="none"/>
<g fill="#111" stroke="#111"><text transform="translate(490.00 507.32)" font-size="8.30" text-anchor="end" stroke-width="0.24" style="font-family:'Liberation Serif',serif;font-weight:bold;">0.0</text><text transform="translate(490.00 479.44)" font-size="8.30" text-anchor="end" stroke-width="0.24" style="font-family:'Liberation Serif',serif;font-weight:bold;">0.4</text><text transform="translate(490.00 451.56)" font-size="8.30" text-anchor="end" stroke-width="0.24" style="font-family:'Liberation Serif',serif;font-weight:bold;">0.8</text><text transform="translate(490.00 423.68)" font-size="8.30" text-anchor="end" stroke-width="0.24" style="font-family:'Liberation Serif',serif;font-weight:bold;">1.2</text><text transform="translate(490.00 395.80)" font-size="8.30" text-anchor="end" stroke-width="0.24" style="font-family:'Liberation Serif',serif;font-weight:bold;">1.6</text><text transform="translate(490.00 367.92)" font-size="8.30" text-anchor="end" stroke-width="0.24" style="font-family:'Liberation Serif',serif;font-weight:bold;">2.0</text><text transform="translate(513.10 510.80) rotate(-30.00)" font-size="8.80" text-anchor="end" stroke-width="0.24" style="font-family:'Liberation Serif',serif;font-weight:bold;">JA-0μM</text><text transform="translate(533.10 510.80) rotate(-30.00)" font-size="8.80" text-anchor="end" stroke-width="0.24" style="font-family:'Liberation Serif',serif;font-weight:bold;">JA-100μM</text><text transform="translate(553.10 510.80) rotate(-30.00)" font-size="8.80" text-anchor="end" stroke-width="0.24" style="font-family:'Liberation Serif',serif;font-weight:bold;">JA-250μM</text><text transform="translate(505.30 375.00)" font-size="10.60" stroke-width="0.24" style="font-family:'Liberation Serif',serif;font-weight:bold;font-style:italic;">LcCOI1</text><text transform="translate(475.00 434.00) rotate(-90.00)" font-size="10.00" text-anchor="middle" stroke-width="0.24" style="font-family:'Liberation Serif',serif;font-weight:bold;">Relative expression level</text></g>
<g fill="#3d3d3d" stroke="#222" stroke-width="0.5"><rect x="603.3" y="475.53" width="9.9" height="29.07"/><rect x="625" y="419.67" width="9.9" height="84.93"/><rect x="646.7" y="380.91" width="9.9" height="123.69"/></g>
<path d="M596.1 362.1V504.6M592.3 504.6H662.6M594.1 490.35H596.1M592.3 476.1H596.1M594.1 461.85H596.1M592.3 447.6H596.1M594.1 433.35H596.1M592.3 419.1H596.1M594.1 404.85H596.1M592.3 390.6H596.1M594.1 376.35H596.1M592.3 362.1H596.1M597.4 504.6V508.2M619.1 504.6V508.2M640.8 504.6V508.2M662.5 504.6V508.2M608.25 473.82V477.24M605.65 473.82H610.85M605.65 477.24H610.85M629.95 415.97V423.38M627.35 415.97H632.55M627.35 423.38H632.55M651.65 368.09V393.74M649.05 368.09H654.25M649.05 393.74H654.25" stroke="#111" stroke-width="1" fill="none"/>
<g fill="#111" stroke="#111"><text transform="translate(588.50 507.42)" font-size="8.30" text-anchor="end" stroke-width="0.24" style="font-family:'Liberation Serif',serif;font-weight:bold;">0</text><text transform="translate(588.50 478.92)" font-size="8.30" text-anchor="end" stroke-width="0.24" style="font-family:'Liberation Serif',serif;font-weight:bold;">1</text><text transform="translate(588.50 450.42)" font-size="8.30" text-anchor="end" stroke-width="0.24" style="font-family:'Liberation Serif',serif;font-weight:bold;">2</text><text transform="translate(588.50 421.92)" font-size="8.30" text-anchor="end" stroke-width="0.24" style="font-family:'Liberation Serif',serif;font-weight:bold;">3</text><text transform="translate(588.50 393.42)" font-size="8.30" text-anchor="end" stroke-width="0.24" style="font-family:'Liberation Serif',serif;font-weight:bold;">4</text><text transform="translate(588.50 364.92)" font-size="8.30" text-anchor="end" stroke-width="0.24" style="font-family:'Liberation Serif',serif;font-weight:bold;">5</text><text transform="translate(612.75 510.90) rotate(-30.00)" font-size="8.80" text-anchor="end" stroke-width="0.24" style="font-family:'Liberation Serif',serif;font-weight:bold;">JA-0μM</text><text transform="translate(634.45 510.90) rotate(-30.00)" font-size="8.80" text-anchor="end" stroke-width="0.24" style="font-family:'Liberation Serif',serif;font-weight:bold;">JA-100μM</text><text transform="translate(656.15 510.90) rotate(-30.00)" font-size="8.80" text-anchor="end" stroke-width="0.24" style="font-family:'Liberation Serif',serif;font-weight:bold;">JA-250μM</text><text transform="translate(602.60 373.00)" font-size="10.60" stroke-width="0.24" style="font-family:'Liberation Serif',serif;font-weight:bold;font-style:italic;">LcJAZ1</text><text transform="translate(578.70 434.00) rotate(-90.00)" font-size="10.00" text-anchor="middle" stroke-width="0.24" style="font-family:'Liberation Serif',serif;font-weight:bold;">Relative expression level</text></g>
<g fill="#3d3d3d" stroke="#222" stroke-width="0.5"><rect x="402.1" y="623.38" width="9.4" height="55.32"/><rect x="421.9" y="594.32" width="9.4" height="84.38"/><rect x="441.7" y="577" width="9.4" height="101.7"/></g>
<path d="M394.5 539V678.7M390.7 678.7H456.5M392.5 664.73H394.5M390.7 650.76H394.5M392.5 636.79H394.5M390.7 622.82H394.5M392.5 608.85H394.5M390.7 594.88H394.5M392.5 580.91H394.5M390.7 566.94H394.5M392.5 552.97H394.5M390.7 539H394.5M396.9 678.7V682.3M416.7 678.7V682.3M436.5 678.7V682.3M456.3 678.7V682.3M406.8 621.7V625.06M404.2 621.7H409.4M404.2 625.06H409.4M426.6 587.62V601.03M424 587.62H429.2M424 601.03H429.2M446.4 566.94V587.06M443.8 566.94H449M443.8 587.06H449" stroke="#111" stroke-width="1" fill="none"/>
<g fill="#111" stroke="#111"><text transform="translate(387.90 681.52)" font-size="8.30" text-anchor="end" stroke-width="0.24" style="font-family:'Liberation Serif',serif;font-weight:bold;">0.0</text><text transform="translate(387.90 653.58)" font-size="8.30" text-anchor="end" stroke-width="0.24" style="font-family:'Liberation Serif',serif;font-weight:bold;">0.5</text><text transform="translate(387.90 625.64)" font-size="8.30" text-anchor="end" stroke-width="0.24" style="font-family:'Liberation Serif',serif;font-weight:bold;">1.0</text><text transform="translate(387.90 597.70)" font-size="8.30" text-anchor="end" stroke-width="0.24" style="font-family:'Liberation Serif',serif;font-weight:bold;">1.5</text><text transform="translate(387.90 569.76)" font-size="8.30" text-anchor="end" stroke-width="0.24" style="font-family:'Liberation Serif',serif;font-weight:bold;">2.0</text><text transform="translate(387.90 541.82)" font-size="8.30" text-anchor="end" stroke-width="0.24" style="font-family:'Liberation Serif',serif;font-weight:bold;">2.5</text><text transform="translate(411.30 685.00) rotate(-30.00)" font-size="8.80" text-anchor="end" stroke-width="0.24" style="font-family:'Liberation Serif',serif;font-weight:bold;">JA-0μM</text><text transform="translate(431.10 685.00) rotate(-30.00)" font-size="8.80" text-anchor="end" stroke-width="0.24" style="font-family:'Liberation Serif',serif;font-weight:bold;">JA-100μM</text><text transform="translate(450.90 685.00) rotate(-30.00)" font-size="8.80" text-anchor="end" stroke-width="0.24" style="font-family:'Liberation Serif',serif;font-weight:bold;">JA-250μM</text><text transform="translate(402.50 550.00)" font-size="10.60" stroke-width="0.24" style="font-family:'Liberation Serif',serif;font-weight:bold;font-style:italic;">LcMYC2</text><text transform="translate(373.00 608.00) rotate(-90.00)" font-size="10.00" text-anchor="middle" stroke-width="0.24" style="font-family:'Liberation Serif',serif;font-weight:bold;">Relative expression level</text></g>
<g fill="#3d3d3d" stroke="#222" stroke-width="0.5"><rect x="502.5" y="638.75" width="9.4" height="39.55"/><rect x="522.5" y="614.6" width="9.4" height="63.7"/><rect x="542.5" y="563.85" width="9.4" height="114.45"/></g>
<path d="M495.5 538.3V678.3M491.7 678.3H557M493.5 664.3H495.5M491.7 650.3H495.5M493.5 636.3H495.5M491.7 622.3H495.5M493.5 608.3H495.5M491.7 594.3H495.5M493.5 580.3H495.5M491.7 566.3H495.5M493.5 552.3H495.5M491.7 538.3H495.5M497.2 678.3V681.9M517.2 678.3V681.9M537.2 678.3V681.9M557.2 678.3V681.9M507.2 635.25V642.25M504.6 635.25H509.8M504.6 642.25H509.8M527.2 612.5V616.7M524.6 612.5H529.8M524.6 616.7H529.8M547.2 556.15V571.55M544.6 556.15H549.8M544.6 571.55H549.8" stroke="#111" stroke-width="1" fill="none"/>
<g fill="#111" stroke="#111"><text transform="translate(488.30 681.12)" font-size="8.30" text-anchor="end" stroke-width="0.24" style="font-family:'Liberation Serif',serif;font-weight:bold;">0.0</text><text transform="translate(488.30 653.12)" font-size="8.30" text-anchor="end" stroke-width="0.24" style="font-family:'Liberation Serif',serif;font-weight:bold;">0.8</text><text transform="translate(488.30 625.12)" font-size="8.30" text-anchor="end" stroke-width="0.24" style="font-family:'Liberation Serif',serif;font-weight:bold;">1.6</text><text transform="translate(488.30 597.12)" font-size="8.30" text-anchor="end" stroke-width="0.24" style="font-family:'Liberation Serif',serif;font-weight:bold;">2.4</text><text transform="translate(488.30 569.12)" font-size="8.30" text-anchor="end" stroke-width="0.24" style="font-family:'Liberation Serif',serif;font-weight:bold;">3.2</text><text transform="translate(488.30 541.12)" font-size="8.30" text-anchor="end" stroke-width="0.24" style="font-family:'Liberation Serif',serif;font-weight:bold;">4.0</text><text transform="translate(511.70 684.60) rotate(-30.00)" font-size="8.80" text-anchor="end" stroke-width="0.24" style="font-family:'Liberation Serif',serif;font-weight:bold;">JA-0μM</text><text transform="translate(531.70 684.60) rotate(-30.00)" font-size="8.80" text-anchor="end" stroke-width="0.24" style="font-family:'Liberation Serif',serif;font-weight:bold;">JA-100μM</text><text transform="translate(551.70 684.60) rotate(-30.00)" font-size="8.80" text-anchor="end" stroke-width="0.24" style="font-family:'Liberation Serif',serif;font-weight:bold;">JA-250μM</text><text transform="translate(503.60 549.50)" font-size="10.60" stroke-width="0.24" style="font-family:'Liberation Serif',serif;font-weight:bold;font-style:italic;">LcERF19</text><text transform="translate(473.00 607.50) rotate(-90.00)" font-size="10.00" text-anchor="middle" stroke-width="0.24" style="font-family:'Liberation Serif',serif;font-weight:bold;">Relative expression level</text></g>
<g fill="#3d3d3d" stroke="#222" stroke-width="0.5"><rect x="602.2" y="618.47" width="9" height="59.83"/><rect x="622.2" y="624.62" width="9" height="53.68"/><rect x="642.2" y="554.72" width="9" height="123.58"/></g>
<path d="M594.6 538.5V678.3M590.8 678.3H656.4M592.6 664.32H594.6M590.8 650.34H594.6M592.6 636.36H594.6M590.8 622.38H594.6M592.6 608.4H594.6M590.8 594.42H594.6M592.6 580.44H594.6M590.8 566.46H594.6M592.6 552.48H594.6M590.8 538.5H594.6M596.7 678.3V681.9M616.7 678.3V681.9M636.7 678.3V681.9M656.7 678.3V681.9M606.7 614.55V622.38M604.1 614.55H609.3M604.1 622.38H609.3M626.7 617.35V631.89M624.1 617.35H629.3M624.1 631.89H629.3M646.7 544.65V564.78M644.1 544.65H649.3M644.1 564.78H649.3" stroke="#111" stroke-width="1" fill="none"/>
<g fill="#111" stroke="#111"><text transform="translate(587.40 681.12)" font-size="8.30" text-anchor="end" stroke-width="0.24" style="font-family:'Liberation Serif',serif;font-weight:bold;">0.0</text><text transform="translate(587.40 653.16)" font-size="8.30" text-anchor="end" stroke-width="0.24" style="font-family:'Liberation Serif',serif;font-weight:bold;">0.5</text><text transform="translate(587.40 625.20)" font-size="8.30" text-anchor="end" stroke-width="0.24" style="font-family:'Liberation Serif',serif;font-weight:bold;">1.0</text><text transform="translate(587.40 597.24)" font-size="8.30" text-anchor="end" stroke-width="0.24" style="font-family:'Liberation Serif',serif;font-weight:bold;">1.5</text><text transform="translate(587.40 569.28)" font-size="8.30" text-anchor="end" stroke-width="0.24" style="font-family:'Liberation Serif',serif;font-weight:bold;">2.0</text><text transform="translate(587.40 541.32)" font-size="8.30" text-anchor="end" stroke-width="0.24" style="font-family:'Liberation Serif',serif;font-weight:bold;">2.5</text><text transform="translate(611.20 684.60) rotate(-30.00)" font-size="8.80" text-anchor="end" stroke-width="0.24" style="font-family:'Liberation Serif',serif;font-weight:bold;">JA-0μM</text><text transform="translate(631.20 684.60) rotate(-30.00)" font-size="8.80" text-anchor="end" stroke-width="0.24" style="font-family:'Liberation Serif',serif;font-weight:bold;">JA-100μM</text><text transform="translate(651.20 684.60) rotate(-30.00)" font-size="8.80" text-anchor="end" stroke-width="0.24" style="font-family:'Liberation Serif',serif;font-weight:bold;">JA-250μM</text><text transform="translate(603.40 549.50)" font-size="10.60" stroke-width="0.24" style="font-family:'Liberation Serif',serif;font-weight:bold;font-style:italic;">LcTPS42</text><text transform="translate(573.30 607.20) rotate(-90.00)" font-size="10.00" text-anchor="middle" stroke-width="0.24" style="font-family:'Liberation Serif',serif;font-weight:bold;">Relative expression level</text></g>
</svg>
</body></html>
